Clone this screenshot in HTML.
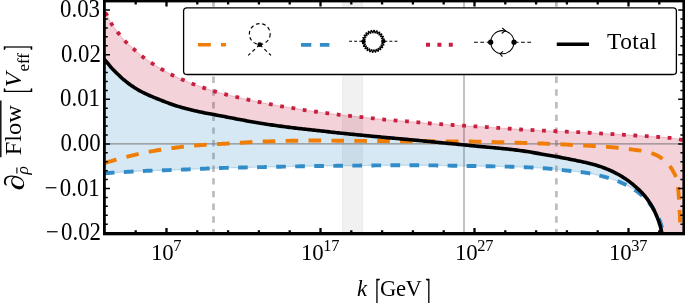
<!DOCTYPE html>
<html><head><meta charset="utf-8"><title>Flow plot</title>
<style>
html,body{margin:0;padding:0;background:#fff;}
svg{display:block;font-family:"Liberation Serif","DejaVu Serif",serif;}
</style></head>
<body>
<svg width="685" height="303" viewBox="0 0 685 303">
<rect width="685" height="303" fill="#fff"/>
<clipPath id="pc"><rect x="104.4" y="1.0" width="579.4" height="232.7"/></clipPath>
<g clip-path="url(#pc)">
<!-- grey band and guide lines -->
<rect x="342.6" y="0" width="19.8" height="240" fill="#000" fill-opacity="0.055"/>
<path d="M342.6 0V240M362.4 0V240" stroke="#000" stroke-opacity="0.08" stroke-width="0.8" fill="none"/>
<path d="M213.5 1.0V233.7M556.4 1.0V233.7" stroke="#bcbcbc" stroke-width="2.7" stroke-dasharray="6.4 6.3" stroke-dashoffset="0.6" fill="none"/>
<path d="M464 0V240" stroke="#a8a8a8" stroke-width="1.4" fill="none"/>
<!-- fills -->
<path d="M104.40 11.60 L105.85 13.45 L107.30 15.74 L108.75 18.56 L110.20 21.48 L111.65 24.04 L113.11 26.22 L114.56 28.23 L116.01 30.12 L117.46 31.96 L118.91 33.80 L120.36 35.62 L121.81 37.41 L123.26 39.13 L124.71 40.76 L126.16 42.27 L127.61 43.68 L129.06 45.01 L130.52 46.28 L131.97 47.53 L133.42 48.79 L134.87 50.07 L136.32 51.36 L137.77 52.66 L139.22 53.93 L140.67 55.16 L142.12 56.35 L143.57 57.47 L145.02 58.55 L146.48 59.59 L147.93 60.61 L149.38 61.60 L150.83 62.57 L152.28 63.52 L153.73 64.45 L155.18 65.36 L156.63 66.24 L158.08 67.12 L159.53 67.98 L160.98 68.83 L162.44 69.67 L163.89 70.51 L165.34 71.35 L166.79 72.17 L168.24 72.98 L169.69 73.76 L171.14 74.52 L172.59 75.24 L174.04 75.93 L175.49 76.60 L176.94 77.25 L178.39 77.88 L179.85 78.51 L181.30 79.13 L182.75 79.75 L184.20 80.37 L185.65 80.98 L187.10 81.59 L188.55 82.19 L190.00 82.78 L191.45 83.36 L192.90 83.92 L194.35 84.48 L195.81 85.03 L197.26 85.56 L198.71 86.09 L200.16 86.61 L201.61 87.13 L203.06 87.63 L204.51 88.13 L205.96 88.62 L207.41 89.11 L208.86 89.59 L210.31 90.06 L211.76 90.52 L213.22 90.96 L214.67 91.40 L216.12 91.82 L217.57 92.23 L219.02 92.64 L220.47 93.03 L221.92 93.42 L223.37 93.80 L224.82 94.17 L226.27 94.55 L227.72 94.91 L229.18 95.27 L230.63 95.62 L232.08 95.97 L233.53 96.32 L234.98 96.67 L236.43 97.01 L237.88 97.36 L239.33 97.71 L240.78 98.05 L242.23 98.40 L243.68 98.74 L245.14 99.08 L246.59 99.41 L248.04 99.73 L249.49 100.04 L250.94 100.35 L252.39 100.65 L253.84 100.95 L255.29 101.25 L256.74 101.54 L258.19 101.83 L259.64 102.13 L261.09 102.43 L262.55 102.74 L264.00 103.04 L265.45 103.34 L266.90 103.63 L268.35 103.92 L269.80 104.20 L271.25 104.48 L272.70 104.75 L274.15 105.01 L275.60 105.27 L277.05 105.53 L278.51 105.78 L279.96 106.02 L281.41 106.27 L282.86 106.51 L284.31 106.74 L285.76 106.96 L287.21 107.18 L288.66 107.41 L290.11 107.63 L291.56 107.85 L293.01 108.09 L294.46 108.32 L295.92 108.57 L297.37 108.82 L298.82 109.07 L300.27 109.32 L301.72 109.56 L303.17 109.80 L304.62 110.03 L306.07 110.26 L307.52 110.48 L308.97 110.70 L310.42 110.91 L311.88 111.13 L313.33 111.34 L314.78 111.54 L316.23 111.75 L317.68 111.95 L319.13 112.14 L320.58 112.34 L322.03 112.53 L323.48 112.72 L324.93 112.91 L326.38 113.11 L327.84 113.30 L329.29 113.49 L330.74 113.69 L332.19 113.88 L333.64 114.08 L335.09 114.27 L336.54 114.45 L337.99 114.63 L339.44 114.80 L340.89 114.96 L342.34 115.12 L343.79 115.27 L345.25 115.42 L346.70 115.57 L348.15 115.72 L349.60 115.87 L351.05 116.02 L352.50 116.17 L353.95 116.32 L355.40 116.47 L356.85 116.62 L358.30 116.78 L359.75 116.93 L361.21 117.08 L362.66 117.23 L364.11 117.39 L365.56 117.54 L367.01 117.70 L368.46 117.85 L369.91 118.00 L371.36 118.16 L372.81 118.31 L374.26 118.47 L375.71 118.62 L377.16 118.78 L378.62 118.93 L380.07 119.09 L381.52 119.24 L382.97 119.38 L384.42 119.52 L385.87 119.66 L387.32 119.79 L388.77 119.91 L390.22 120.04 L391.67 120.16 L393.12 120.28 L394.58 120.40 L396.03 120.52 L397.48 120.63 L398.93 120.74 L400.38 120.85 L401.83 120.96 L403.28 121.06 L404.73 121.17 L406.18 121.28 L407.63 121.40 L409.08 121.52 L410.54 121.65 L411.99 121.77 L413.44 121.90 L414.89 122.03 L416.34 122.16 L417.79 122.29 L419.24 122.43 L420.69 122.56 L422.14 122.70 L423.59 122.85 L425.04 122.99 L426.49 123.12 L427.95 123.25 L429.40 123.38 L430.85 123.49 L432.30 123.60 L433.75 123.70 L435.20 123.80 L436.65 123.89 L438.10 123.99 L439.55 124.09 L441.00 124.19 L442.45 124.29 L443.91 124.39 L445.36 124.49 L446.81 124.60 L448.26 124.70 L449.71 124.80 L451.16 124.90 L452.61 124.99 L454.06 125.09 L455.51 125.18 L456.96 125.27 L458.41 125.36 L459.86 125.45 L461.32 125.54 L462.77 125.62 L464.22 125.71 L465.67 125.80 L467.12 125.89 L468.57 125.98 L470.02 126.07 L471.47 126.16 L472.92 126.25 L474.37 126.34 L475.82 126.43 L477.28 126.51 L478.73 126.60 L480.18 126.69 L481.63 126.77 L483.08 126.86 L484.53 126.95 L485.98 127.04 L487.43 127.13 L488.88 127.23 L490.33 127.33 L491.78 127.43 L493.24 127.53 L494.69 127.64 L496.14 127.74 L497.59 127.84 L499.04 127.94 L500.49 128.05 L501.94 128.15 L503.39 128.25 L504.84 128.35 L506.29 128.45 L507.74 128.55 L509.19 128.65 L510.65 128.75 L512.10 128.86 L513.55 128.97 L515.00 129.07 L516.45 129.18 L517.90 129.28 L519.35 129.38 L520.80 129.48 L522.25 129.56 L523.70 129.64 L525.15 129.72 L526.61 129.79 L528.06 129.87 L529.51 129.94 L530.96 130.01 L532.41 130.08 L533.86 130.16 L535.31 130.24 L536.76 130.32 L538.21 130.40 L539.66 130.48 L541.11 130.56 L542.56 130.63 L544.02 130.70 L545.47 130.77 L546.92 130.83 L548.37 130.90 L549.82 130.96 L551.27 131.02 L552.72 131.08 L554.17 131.14 L555.62 131.20 L557.07 131.26 L558.52 131.33 L559.98 131.39 L561.43 131.46 L562.88 131.52 L564.33 131.59 L565.78 131.65 L567.23 131.71 L568.68 131.78 L570.13 131.84 L571.58 131.90 L573.03 131.96 L574.48 132.02 L575.94 132.09 L577.39 132.15 L578.84 132.22 L580.29 132.29 L581.74 132.36 L583.19 132.44 L584.64 132.51 L586.09 132.59 L587.54 132.67 L588.99 132.75 L590.44 132.83 L591.89 132.92 L593.35 133.01 L594.80 133.10 L596.25 133.20 L597.70 133.29 L599.15 133.38 L600.60 133.47 L602.05 133.55 L603.50 133.63 L604.95 133.71 L606.40 133.78 L607.85 133.85 L609.31 133.92 L610.76 134.00 L612.21 134.08 L613.66 134.16 L615.11 134.25 L616.56 134.33 L618.01 134.43 L619.46 134.52 L620.91 134.61 L622.36 134.70 L623.81 134.79 L625.26 134.88 L626.72 134.97 L628.17 135.05 L629.62 135.14 L631.07 135.23 L632.52 135.32 L633.97 135.41 L635.42 135.50 L636.87 135.58 L638.32 135.67 L639.77 135.76 L641.22 135.85 L642.68 135.94 L644.13 136.03 L645.58 136.12 L647.03 136.21 L648.48 136.31 L649.93 136.41 L651.38 136.51 L652.83 136.61 L654.28 136.71 L655.73 136.81 L657.18 136.92 L658.64 137.02 L660.09 137.13 L661.54 137.23 L662.99 137.33 L664.44 137.43 L665.89 137.55 L667.34 137.67 L668.79 137.80 L670.24 137.95 L671.69 138.12 L673.14 138.31 L674.59 138.51 L676.05 138.74 L677.50 138.99 L678.95 139.25 L680.40 139.52 L681.85 139.83 L683.30 140.20 L683.80 233.70 L661.90 233.30 L661.60 231.79 L661.27 230.29 L660.92 228.80 L660.54 227.32 L660.14 225.84 L659.71 224.38 L659.25 222.92 L658.75 221.46 L658.24 220.01 L657.69 218.57 L657.12 217.15 L656.54 215.73 L655.93 214.33 L655.31 212.94 L654.66 211.56 L653.98 210.18 L653.28 208.81 L652.55 207.45 L651.79 206.10 L651.01 204.77 L650.21 203.46 L649.39 202.17 L648.55 200.90 L647.68 199.66 L646.77 198.44 L645.83 197.23 L644.85 196.04 L643.84 194.87 L642.81 193.72 L641.76 192.59 L640.69 191.48 L639.61 190.41 L638.52 189.35 L637.41 188.31 L636.28 187.28 L635.13 186.26 L633.96 185.26 L632.77 184.27 L631.57 183.30 L630.35 182.35 L629.12 181.42 L627.88 180.51 L626.63 179.63 L625.37 178.77 L624.10 177.94 L622.82 177.13 L621.52 176.33 L620.20 175.54 L618.86 174.78 L617.51 174.03 L616.15 173.30 L614.78 172.60 L613.40 171.91 L612.02 171.25 L610.63 170.61 L609.24 170.00 L607.83 169.40 L606.42 168.82 L604.99 168.26 L603.56 167.71 L602.11 167.18 L600.66 166.66 L599.21 166.17 L597.75 165.69 L596.29 165.24 L594.82 164.81 L593.35 164.40 L591.87 164.01 L590.39 163.63 L588.90 163.27 L587.41 162.92 L585.91 162.59 L584.41 162.26 L582.91 161.93 L581.41 161.61 L579.91 161.28 L578.42 160.96 L576.92 160.64 L575.42 160.33 L573.92 160.02 L572.42 159.71 L570.91 159.41 L569.41 159.12 L567.91 158.82 L566.40 158.53 L564.90 158.24 L563.39 157.95 L561.89 157.67 L560.38 157.38 L558.88 157.10 L557.37 156.82 L555.86 156.55 L554.36 156.27 L552.85 156.00 L551.34 155.73 L549.83 155.46 L548.32 155.20 L546.81 154.93 L545.30 154.67 L543.79 154.41 L542.28 154.16 L540.77 153.90 L539.26 153.64 L537.75 153.39 L536.24 153.13 L534.73 152.87 L533.22 152.61 L531.71 152.35 L530.20 152.09 L528.69 151.84 L527.18 151.59 L525.66 151.35 L524.15 151.12 L522.64 150.89 L521.12 150.68 L519.60 150.47 L518.08 150.28 L516.57 150.09 L515.04 149.90 L513.52 149.73 L512.00 149.55 L510.48 149.38 L508.95 149.22 L507.43 149.06 L505.91 148.90 L504.38 148.74 L502.86 148.59 L501.33 148.43 L499.81 148.28 L498.28 148.13 L496.76 147.99 L495.23 147.85 L493.71 147.71 L492.18 147.58 L490.66 147.44 L489.13 147.31 L487.60 147.18 L486.08 147.05 L484.55 146.91 L483.02 146.78 L481.50 146.64 L479.97 146.50 L478.45 146.35 L476.92 146.20 L475.40 146.05 L473.88 145.90 L472.35 145.75 L470.83 145.59 L469.30 145.44 L467.78 145.28 L466.25 145.12 L464.73 144.97 L463.21 144.82 L461.68 144.67 L460.16 144.52 L458.63 144.37 L457.11 144.22 L455.58 144.08 L454.06 143.93 L452.53 143.79 L451.01 143.64 L449.48 143.50 L447.96 143.36 L446.43 143.21 L444.91 143.07 L443.38 142.92 L441.86 142.78 L440.33 142.63 L438.81 142.48 L437.28 142.33 L435.76 142.18 L434.23 142.03 L432.71 141.88 L431.18 141.72 L429.66 141.57 L428.14 141.42 L426.61 141.27 L425.09 141.11 L423.56 140.96 L422.04 140.82 L420.51 140.67 L418.99 140.52 L417.46 140.38 L415.94 140.24 L414.41 140.10 L412.89 139.96 L411.36 139.82 L409.84 139.68 L408.31 139.54 L406.78 139.40 L405.26 139.27 L403.73 139.13 L402.21 138.99 L400.68 138.85 L399.16 138.71 L397.63 138.58 L396.10 138.44 L394.58 138.30 L393.05 138.16 L391.53 138.02 L390.00 137.89 L388.48 137.75 L386.95 137.61 L385.42 137.47 L383.90 137.33 L382.37 137.19 L380.85 137.05 L379.32 136.91 L377.80 136.77 L376.27 136.63 L374.75 136.48 L373.22 136.34 L371.70 136.19 L370.17 136.05 L368.65 135.90 L367.12 135.75 L365.60 135.61 L364.07 135.46 L362.55 135.31 L361.02 135.16 L359.50 135.01 L357.97 134.86 L356.45 134.71 L354.92 134.56 L353.40 134.41 L351.88 134.26 L350.35 134.10 L348.83 133.95 L347.30 133.80 L345.78 133.64 L344.25 133.49 L342.73 133.33 L341.21 133.17 L339.68 133.01 L338.16 132.85 L336.64 132.68 L335.11 132.52 L333.59 132.35 L332.07 132.18 L330.55 132.01 L329.02 131.84 L327.50 131.66 L325.98 131.49 L324.46 131.32 L322.94 131.15 L321.41 130.98 L319.89 130.81 L318.37 130.64 L316.84 130.48 L315.32 130.31 L313.80 130.14 L312.28 129.98 L310.75 129.82 L309.23 129.65 L307.71 129.48 L306.18 129.32 L304.66 129.15 L303.14 128.98 L301.62 128.80 L300.09 128.63 L298.57 128.45 L297.05 128.27 L295.53 128.09 L294.01 127.90 L292.49 127.72 L290.97 127.53 L289.45 127.34 L287.93 127.15 L286.41 126.95 L284.89 126.76 L283.37 126.56 L281.85 126.36 L280.33 126.15 L278.82 125.95 L277.30 125.74 L275.78 125.53 L274.26 125.32 L272.75 125.11 L271.23 124.89 L269.71 124.68 L268.20 124.45 L266.68 124.23 L265.16 124.00 L263.65 123.77 L262.14 123.54 L260.62 123.30 L259.11 123.05 L257.60 122.80 L256.09 122.55 L254.58 122.28 L253.07 122.01 L251.57 121.74 L250.06 121.46 L248.55 121.18 L247.05 120.90 L245.54 120.62 L244.04 120.34 L242.53 120.05 L241.03 119.77 L239.52 119.48 L238.01 119.20 L236.51 118.92 L235.00 118.63 L233.50 118.34 L231.99 118.05 L230.49 117.76 L228.99 117.47 L227.48 117.18 L225.98 116.89 L224.47 116.60 L222.97 116.31 L221.47 116.02 L219.96 115.73 L218.46 115.44 L216.95 115.16 L215.44 114.87 L213.94 114.60 L212.43 114.32 L210.92 114.04 L209.42 113.77 L207.91 113.48 L206.40 113.20 L204.90 112.91 L203.40 112.62 L201.90 112.31 L200.40 112.00 L198.90 111.68 L197.41 111.35 L195.91 111.01 L194.42 110.67 L192.92 110.32 L191.43 109.97 L189.94 109.60 L188.45 109.23 L186.96 108.85 L185.48 108.46 L184.00 108.06 L182.53 107.66 L181.05 107.24 L179.59 106.81 L178.12 106.38 L176.66 105.92 L175.21 105.45 L173.75 104.97 L172.30 104.47 L170.86 103.96 L169.41 103.45 L167.97 102.92 L166.53 102.38 L165.10 101.83 L163.67 101.28 L162.24 100.72 L160.81 100.16 L159.39 99.60 L157.97 99.03 L156.55 98.46 L155.12 97.88 L153.70 97.29 L152.28 96.70 L150.86 96.10 L149.44 95.49 L148.04 94.87 L146.64 94.23 L145.25 93.58 L143.87 92.92 L142.51 92.24 L141.15 91.54 L139.82 90.82 L138.50 90.08 L137.18 89.31 L135.88 88.51 L134.58 87.70 L133.29 86.85 L132.01 85.99 L130.75 85.11 L129.50 84.21 L128.26 83.29 L127.03 82.36 L125.82 81.42 L124.62 80.47 L123.44 79.50 L122.30 78.49 L121.19 77.43 L120.08 76.37 L118.97 75.31 L117.86 74.25 L116.75 73.19 L115.65 72.13 L114.56 71.05 L113.48 69.96 L112.42 68.85 L111.39 67.73 L110.40 66.56 L109.43 65.38 L108.46 64.18 L107.50 62.99 L106.51 61.82 L105.48 60.68 L104.40 59.60Z" fill="#c8203f" fill-opacity="0.2"/>
<path d="M104.40 59.60 L105.48 60.68 L106.51 61.82 L107.50 62.99 L108.46 64.18 L109.43 65.38 L110.40 66.56 L111.39 67.73 L112.42 68.85 L113.48 69.96 L114.56 71.05 L115.65 72.13 L116.75 73.19 L117.86 74.25 L118.97 75.31 L120.08 76.37 L121.19 77.43 L122.30 78.49 L123.44 79.50 L124.62 80.47 L125.82 81.42 L127.03 82.36 L128.26 83.29 L129.50 84.21 L130.75 85.11 L132.01 85.99 L133.29 86.85 L134.58 87.70 L135.88 88.51 L137.18 89.31 L138.50 90.08 L139.82 90.82 L141.15 91.54 L142.51 92.24 L143.87 92.92 L145.25 93.58 L146.64 94.23 L148.04 94.87 L149.44 95.49 L150.86 96.10 L152.28 96.70 L153.70 97.29 L155.12 97.88 L156.55 98.46 L157.97 99.03 L159.39 99.60 L160.81 100.16 L162.24 100.72 L163.67 101.28 L165.10 101.83 L166.53 102.38 L167.97 102.92 L169.41 103.45 L170.86 103.96 L172.30 104.47 L173.75 104.97 L175.21 105.45 L176.66 105.92 L178.12 106.38 L179.59 106.81 L181.05 107.24 L182.53 107.66 L184.00 108.06 L185.48 108.46 L186.96 108.85 L188.45 109.23 L189.94 109.60 L191.43 109.97 L192.92 110.32 L194.42 110.67 L195.91 111.01 L197.41 111.35 L198.90 111.68 L200.40 112.00 L201.90 112.31 L203.40 112.62 L204.90 112.91 L206.40 113.20 L207.91 113.48 L209.42 113.77 L210.92 114.04 L212.43 114.32 L213.94 114.60 L215.44 114.87 L216.95 115.16 L218.46 115.44 L219.96 115.73 L221.47 116.02 L222.97 116.31 L224.47 116.60 L225.98 116.89 L227.48 117.18 L228.99 117.47 L230.49 117.76 L231.99 118.05 L233.50 118.34 L235.00 118.63 L236.51 118.92 L238.01 119.20 L239.52 119.48 L241.03 119.77 L242.53 120.05 L244.04 120.34 L245.54 120.62 L247.05 120.90 L248.55 121.18 L250.06 121.46 L251.57 121.74 L253.07 122.01 L254.58 122.28 L256.09 122.55 L257.60 122.80 L259.11 123.05 L260.62 123.30 L262.14 123.54 L263.65 123.77 L265.16 124.00 L266.68 124.23 L268.20 124.45 L269.71 124.68 L271.23 124.89 L272.75 125.11 L274.26 125.32 L275.78 125.53 L277.30 125.74 L278.82 125.95 L280.33 126.15 L281.85 126.36 L283.37 126.56 L284.89 126.76 L286.41 126.95 L287.93 127.15 L289.45 127.34 L290.97 127.53 L292.49 127.72 L294.01 127.90 L295.53 128.09 L297.05 128.27 L298.57 128.45 L300.09 128.63 L301.62 128.80 L303.14 128.98 L304.66 129.15 L306.18 129.32 L307.71 129.48 L309.23 129.65 L310.75 129.82 L312.28 129.98 L313.80 130.14 L315.32 130.31 L316.84 130.48 L318.37 130.64 L319.89 130.81 L321.41 130.98 L322.94 131.15 L324.46 131.32 L325.98 131.49 L327.50 131.66 L329.02 131.84 L330.55 132.01 L332.07 132.18 L333.59 132.35 L335.11 132.52 L336.64 132.68 L338.16 132.85 L339.68 133.01 L341.21 133.17 L342.73 133.33 L344.25 133.49 L345.78 133.64 L347.30 133.80 L348.83 133.95 L350.35 134.10 L351.88 134.26 L353.40 134.41 L354.92 134.56 L356.45 134.71 L357.97 134.86 L359.50 135.01 L361.02 135.16 L362.55 135.31 L364.07 135.46 L365.60 135.61 L367.12 135.75 L368.65 135.90 L370.17 136.05 L371.70 136.19 L373.22 136.34 L374.75 136.48 L376.27 136.63 L377.80 136.77 L379.32 136.91 L380.85 137.05 L382.37 137.19 L383.90 137.33 L385.42 137.47 L386.95 137.61 L388.48 137.75 L390.00 137.89 L391.53 138.02 L393.05 138.16 L394.58 138.30 L396.10 138.44 L397.63 138.58 L399.16 138.71 L400.68 138.85 L402.21 138.99 L403.73 139.13 L405.26 139.27 L406.78 139.40 L408.31 139.54 L409.84 139.68 L411.36 139.82 L412.89 139.96 L414.41 140.10 L415.94 140.24 L417.46 140.38 L418.99 140.52 L420.51 140.67 L422.04 140.82 L423.56 140.96 L425.09 141.11 L426.61 141.27 L428.14 141.42 L429.66 141.57 L431.18 141.72 L432.71 141.88 L434.23 142.03 L435.76 142.18 L437.28 142.33 L438.81 142.48 L440.33 142.63 L441.86 142.78 L443.38 142.92 L444.91 143.07 L446.43 143.21 L447.96 143.36 L449.48 143.50 L451.01 143.64 L452.53 143.79 L454.06 143.93 L455.58 144.08 L457.11 144.22 L458.63 144.37 L460.16 144.52 L461.68 144.67 L463.21 144.82 L464.73 144.97 L466.25 145.12 L467.78 145.28 L469.30 145.44 L470.83 145.59 L472.35 145.75 L473.88 145.90 L475.40 146.05 L476.92 146.20 L478.45 146.35 L479.97 146.50 L481.50 146.64 L483.02 146.78 L484.55 146.91 L486.08 147.05 L487.60 147.18 L489.13 147.31 L490.66 147.44 L492.18 147.58 L493.71 147.71 L495.23 147.85 L496.76 147.99 L498.28 148.13 L499.81 148.28 L501.33 148.43 L502.86 148.59 L504.38 148.74 L505.91 148.90 L507.43 149.06 L508.95 149.22 L510.48 149.38 L512.00 149.55 L513.52 149.73 L515.04 149.90 L516.57 150.09 L518.08 150.28 L519.60 150.47 L521.12 150.68 L522.64 150.89 L524.15 151.12 L525.66 151.35 L527.18 151.59 L528.69 151.84 L530.20 152.09 L531.71 152.35 L533.22 152.61 L534.73 152.87 L536.24 153.13 L537.75 153.39 L539.26 153.64 L540.77 153.90 L542.28 154.16 L543.79 154.41 L545.30 154.67 L546.81 154.93 L548.32 155.20 L549.83 155.46 L551.34 155.73 L552.85 156.00 L554.36 156.27 L555.86 156.55 L557.37 156.82 L558.88 157.10 L560.38 157.38 L561.89 157.67 L563.39 157.95 L564.90 158.24 L566.40 158.53 L567.91 158.82 L569.41 159.12 L570.91 159.41 L572.42 159.71 L573.92 160.02 L575.42 160.33 L576.92 160.64 L578.42 160.96 L579.91 161.28 L581.41 161.61 L582.91 161.93 L584.41 162.26 L585.91 162.59 L587.41 162.92 L588.90 163.27 L590.39 163.63 L591.87 164.01 L593.35 164.40 L594.82 164.81 L596.29 165.24 L597.75 165.69 L599.21 166.17 L600.66 166.66 L602.11 167.18 L603.56 167.71 L604.99 168.26 L606.42 168.82 L607.83 169.40 L609.24 170.00 L610.63 170.61 L612.02 171.25 L613.40 171.91 L614.78 172.60 L616.15 173.30 L617.51 174.03 L618.86 174.78 L620.20 175.54 L621.52 176.33 L622.82 177.13 L624.10 177.94 L625.37 178.77 L626.63 179.63 L627.88 180.51 L629.12 181.42 L630.35 182.35 L631.57 183.30 L632.77 184.27 L633.96 185.26 L635.13 186.26 L636.28 187.28 L637.41 188.31 L638.52 189.35 L639.61 190.41 L640.69 191.48 L641.76 192.59 L642.81 193.72 L643.84 194.87 L644.85 196.04 L645.83 197.23 L646.77 198.44 L647.68 199.66 L648.55 200.90 L649.39 202.17 L650.21 203.46 L651.01 204.77 L651.79 206.10 L652.55 207.45 L653.28 208.81 L653.98 210.18 L654.66 211.56 L655.31 212.94 L655.93 214.33 L656.54 215.73 L657.12 217.15 L657.69 218.57 L658.24 220.01 L658.75 221.46 L659.25 222.92 L659.71 224.38 L660.14 225.84 L660.54 227.32 L660.92 228.80 L661.27 230.29 L661.60 231.79 L661.90 233.30 L663.00 233.30 L662.78 231.82 L662.51 230.36 L662.21 228.90 L661.87 227.47 L661.50 226.04 L661.10 224.64 L660.68 223.25 L660.22 221.88 L659.72 220.52 L659.16 219.16 L658.55 217.81 L657.89 216.47 L657.20 215.15 L656.48 213.84 L655.72 212.55 L654.95 211.28 L654.16 210.03 L653.37 208.80 L652.56 207.60 L651.73 206.41 L650.87 205.22 L649.97 204.05 L649.03 202.88 L648.07 201.74 L647.09 200.61 L646.08 199.51 L645.04 198.43 L643.99 197.38 L642.93 196.37 L641.84 195.40 L640.75 194.46 L639.64 193.55 L638.50 192.66 L637.32 191.78 L636.13 190.92 L634.90 190.07 L633.66 189.25 L632.40 188.44 L631.12 187.66 L629.84 186.91 L628.54 186.17 L627.23 185.47 L625.91 184.79 L624.60 184.14 L623.28 183.53 L621.96 182.94 L620.62 182.36 L619.27 181.81 L617.91 181.27 L616.53 180.74 L615.15 180.23 L613.75 179.73 L612.35 179.25 L610.94 178.79 L609.52 178.34 L608.11 177.90 L606.69 177.48 L605.26 177.07 L603.84 176.68 L602.42 176.31 L601.01 175.95 L599.58 175.59 L598.15 175.24 L596.72 174.91 L595.28 174.58 L593.84 174.26 L592.40 173.95 L590.95 173.66 L589.50 173.37 L588.05 173.11 L586.60 172.85 L585.15 172.62 L583.70 172.40 L582.24 172.20 L580.79 172.01 L579.33 171.84 L577.87 171.68 L576.40 171.52 L574.94 171.38 L573.47 171.24 L572.00 171.10 L570.54 170.96 L569.07 170.81 L567.61 170.66 L566.14 170.51 L564.68 170.35 L563.22 170.18 L561.75 170.02 L560.29 169.85 L558.83 169.69 L557.37 169.52 L555.90 169.36 L554.44 169.20 L552.98 169.05 L551.51 168.91 L550.05 168.77 L548.58 168.65 L547.12 168.53 L545.65 168.42 L544.18 168.31 L542.71 168.20 L541.25 168.10 L539.78 168.01 L538.31 167.91 L536.84 167.82 L535.37 167.73 L533.90 167.65 L532.43 167.57 L530.96 167.49 L529.49 167.42 L528.02 167.35 L526.55 167.29 L525.08 167.23 L523.61 167.16 L522.14 167.10 L520.67 167.05 L519.20 166.99 L517.73 166.94 L516.26 166.89 L514.79 166.84 L513.32 166.79 L511.85 166.75 L510.37 166.71 L508.90 166.67 L507.43 166.63 L505.96 166.60 L504.49 166.56 L503.02 166.53 L501.55 166.50 L500.08 166.47 L498.61 166.44 L497.13 166.41 L495.66 166.39 L494.19 166.36 L492.72 166.33 L491.25 166.30 L489.78 166.28 L488.31 166.25 L486.83 166.23 L485.36 166.20 L483.89 166.18 L482.42 166.16 L480.95 166.14 L479.48 166.11 L478.01 166.09 L476.54 166.07 L475.06 166.05 L473.59 166.02 L472.12 166.00 L470.65 165.98 L469.18 165.96 L467.71 165.93 L466.24 165.91 L464.76 165.89 L463.29 165.86 L461.82 165.84 L460.35 165.82 L458.88 165.79 L457.41 165.77 L455.94 165.75 L454.46 165.72 L452.99 165.70 L451.52 165.68 L450.05 165.65 L448.58 165.62 L447.11 165.60 L445.64 165.57 L444.17 165.54 L442.69 165.52 L441.22 165.49 L439.75 165.47 L438.28 165.45 L436.81 165.43 L435.34 165.41 L433.87 165.40 L432.39 165.39 L430.92 165.38 L429.45 165.37 L427.98 165.35 L426.51 165.34 L425.04 165.34 L423.57 165.33 L422.09 165.32 L420.62 165.31 L419.15 165.31 L417.68 165.30 L416.21 165.30 L414.74 165.30 L413.26 165.30 L411.79 165.30 L410.32 165.30 L408.85 165.30 L407.38 165.30 L405.91 165.30 L404.44 165.30 L402.96 165.30 L401.49 165.30 L400.02 165.30 L398.55 165.30 L397.08 165.30 L395.61 165.30 L394.13 165.30 L392.66 165.30 L391.19 165.31 L389.72 165.31 L388.25 165.32 L386.78 165.33 L385.31 165.34 L383.83 165.35 L382.36 165.36 L380.89 165.37 L379.42 165.38 L377.95 165.39 L376.48 165.40 L375.00 165.41 L373.53 165.43 L372.06 165.44 L370.59 165.45 L369.12 165.47 L367.65 165.49 L366.18 165.50 L364.70 165.52 L363.23 165.54 L361.76 165.56 L360.29 165.57 L358.82 165.59 L357.35 165.60 L355.88 165.62 L354.40 165.63 L352.93 165.65 L351.46 165.66 L349.99 165.68 L348.52 165.69 L347.05 165.71 L345.58 165.72 L344.10 165.74 L342.63 165.75 L341.16 165.77 L339.69 165.78 L338.22 165.80 L336.75 165.81 L335.28 165.83 L333.80 165.84 L332.33 165.86 L330.86 165.87 L329.39 165.89 L327.92 165.90 L326.45 165.92 L324.97 165.94 L323.50 165.95 L322.03 165.97 L320.56 165.99 L319.09 166.01 L317.62 166.02 L316.15 166.04 L314.67 166.06 L313.20 166.09 L311.73 166.11 L310.26 166.13 L308.79 166.15 L307.32 166.18 L305.85 166.20 L304.38 166.22 L302.90 166.25 L301.43 166.27 L299.96 166.30 L298.49 166.33 L297.02 166.36 L295.55 166.39 L294.08 166.42 L292.61 166.45 L291.13 166.48 L289.66 166.51 L288.19 166.54 L286.72 166.58 L285.25 166.61 L283.78 166.64 L282.31 166.67 L280.84 166.70 L279.36 166.73 L277.89 166.77 L276.42 166.80 L274.95 166.83 L273.48 166.86 L272.01 166.89 L270.54 166.92 L269.07 166.95 L267.59 166.98 L266.12 167.01 L264.65 167.04 L263.18 167.08 L261.71 167.11 L260.24 167.14 L258.77 167.17 L257.30 167.20 L255.82 167.23 L254.35 167.26 L252.88 167.29 L251.41 167.32 L249.94 167.35 L248.47 167.38 L247.00 167.42 L245.53 167.45 L244.05 167.48 L242.58 167.51 L241.11 167.54 L239.64 167.57 L238.17 167.60 L236.70 167.62 L235.23 167.65 L233.76 167.68 L232.28 167.71 L230.81 167.74 L229.34 167.77 L227.87 167.80 L226.40 167.84 L224.93 167.88 L223.46 167.92 L221.99 167.96 L220.52 168.01 L219.05 168.06 L217.58 168.12 L216.11 168.18 L214.64 168.24 L213.16 168.30 L211.69 168.37 L210.22 168.43 L208.75 168.50 L207.28 168.56 L205.81 168.62 L204.34 168.69 L202.87 168.75 L201.40 168.81 L199.93 168.87 L198.46 168.93 L196.99 169.00 L195.52 169.06 L194.05 169.12 L192.58 169.19 L191.11 169.25 L189.64 169.31 L188.17 169.37 L186.70 169.43 L185.23 169.49 L183.76 169.55 L182.29 169.61 L180.82 169.66 L179.35 169.72 L177.88 169.77 L176.41 169.83 L174.94 169.88 L173.47 169.94 L172.00 169.99 L170.53 170.04 L169.05 170.09 L167.58 170.15 L166.11 170.20 L164.64 170.25 L163.17 170.29 L161.70 170.34 L160.23 170.38 L158.76 170.42 L157.29 170.46 L155.82 170.51 L154.35 170.55 L152.87 170.60 L151.40 170.64 L149.93 170.69 L148.46 170.74 L146.99 170.80 L145.52 170.86 L144.05 170.93 L142.58 171.00 L141.11 171.07 L139.64 171.14 L138.17 171.22 L136.70 171.30 L135.24 171.39 L133.77 171.47 L132.30 171.55 L130.83 171.64 L129.36 171.72 L127.89 171.81 L126.42 171.89 L124.95 171.97 L123.48 172.05 L122.01 172.14 L120.54 172.22 L119.07 172.30 L117.60 172.39 L116.14 172.48 L114.67 172.58 L113.20 172.67 L111.73 172.77 L110.26 172.88 L108.80 173.00 L107.33 173.12 L105.87 173.26 L104.40 173.40Z" fill="#328cc8" fill-opacity="0.2"/>
<path d="M104.40 11.60 L105.85 13.45 L107.30 15.74 L108.75 18.56 L110.20 21.48 L111.65 24.04 L113.11 26.22 L114.56 28.23 L116.01 30.12 L117.46 31.96 L118.91 33.80 L120.36 35.62 L121.81 37.41 L123.26 39.13 L124.71 40.76 L126.16 42.27 L127.61 43.68 L129.06 45.01 L130.52 46.28 L131.97 47.53 L133.42 48.79 L134.87 50.07 L136.32 51.36 L137.77 52.66 L139.22 53.93 L140.67 55.16 L142.12 56.35 L143.57 57.47 L145.02 58.55 L146.48 59.59 L147.93 60.61 L149.38 61.60 L150.83 62.57 L152.28 63.52 L153.73 64.45 L155.18 65.36 L156.63 66.24 L158.08 67.12 L159.53 67.98 L160.98 68.83 L162.44 69.67 L163.89 70.51 L165.34 71.35 L166.79 72.17 L168.24 72.98 L169.69 73.76 L171.14 74.52 L172.59 75.24 L174.04 75.93 L175.49 76.60 L176.94 77.25 L178.39 77.88 L179.85 78.51 L181.30 79.13 L182.75 79.75 L184.20 80.37 L185.65 80.98 L187.10 81.59 L188.55 82.19 L190.00 82.78 L191.45 83.36 L192.90 83.92 L194.35 84.48 L195.81 85.03 L197.26 85.56 L198.71 86.09 L200.16 86.61 L201.61 87.13 L203.06 87.63 L204.51 88.13 L205.96 88.62 L207.41 89.11 L208.86 89.59 L210.31 90.06 L211.76 90.52 L213.22 90.96 L214.67 91.40 L216.12 91.82 L217.57 92.23 L219.02 92.64 L220.47 93.03 L221.92 93.42 L223.37 93.80 L224.82 94.17 L226.27 94.55 L227.72 94.91 L229.18 95.27 L230.63 95.62 L232.08 95.97 L233.53 96.32 L234.98 96.67 L236.43 97.01 L237.88 97.36 L239.33 97.71 L240.78 98.05 L242.23 98.40 L243.68 98.74 L245.14 99.08 L246.59 99.41 L248.04 99.73 L249.49 100.04 L250.94 100.35 L252.39 100.65 L253.84 100.95 L255.29 101.25 L256.74 101.54 L258.19 101.83 L259.64 102.13 L261.09 102.43 L262.55 102.74 L264.00 103.04 L265.45 103.34 L266.90 103.63 L268.35 103.92 L269.80 104.20 L271.25 104.48 L272.70 104.75 L274.15 105.01 L275.60 105.27 L277.05 105.53 L278.51 105.78 L279.96 106.02 L281.41 106.27 L282.86 106.51 L284.31 106.74 L285.76 106.96 L287.21 107.18 L288.66 107.41 L290.11 107.63 L291.56 107.85 L293.01 108.09 L294.46 108.32 L295.92 108.57 L297.37 108.82 L298.82 109.07 L300.27 109.32 L301.72 109.56 L303.17 109.80 L304.62 110.03 L306.07 110.26 L307.52 110.48 L308.97 110.70 L310.42 110.91 L311.88 111.13 L313.33 111.34 L314.78 111.54 L316.23 111.75 L317.68 111.95 L319.13 112.14 L320.58 112.34 L322.03 112.53 L323.48 112.72 L324.93 112.91 L326.38 113.11 L327.84 113.30 L329.29 113.49 L330.74 113.69 L332.19 113.88 L333.64 114.08 L335.09 114.27 L336.54 114.45 L337.99 114.63 L339.44 114.80 L340.89 114.96 L342.34 115.12 L343.79 115.27 L345.25 115.42 L346.70 115.57 L348.15 115.72 L349.60 115.87 L351.05 116.02 L352.50 116.17 L353.95 116.32 L355.40 116.47 L356.85 116.62 L358.30 116.78 L359.75 116.93 L361.21 117.08 L362.66 117.23 L364.11 117.39 L365.56 117.54 L367.01 117.70 L368.46 117.85 L369.91 118.00 L371.36 118.16 L372.81 118.31 L374.26 118.47 L375.71 118.62 L377.16 118.78 L378.62 118.93 L380.07 119.09 L381.52 119.24 L382.97 119.38 L384.42 119.52 L385.87 119.66 L387.32 119.79 L388.77 119.91 L390.22 120.04 L391.67 120.16 L393.12 120.28 L394.58 120.40 L396.03 120.52 L397.48 120.63 L398.93 120.74 L400.38 120.85 L401.83 120.96 L403.28 121.06 L404.73 121.17 L406.18 121.28 L407.63 121.40 L409.08 121.52 L410.54 121.65 L411.99 121.77 L413.44 121.90 L414.89 122.03 L416.34 122.16 L417.79 122.29 L419.24 122.43 L420.69 122.56 L422.14 122.70 L423.59 122.85 L425.04 122.99 L426.49 123.12 L427.95 123.25 L429.40 123.38 L430.85 123.49 L432.30 123.60 L433.75 123.70 L435.20 123.80 L436.65 123.89 L438.10 123.99 L439.55 124.09 L441.00 124.19 L442.45 124.29 L443.91 124.39 L445.36 124.49 L446.81 124.60 L448.26 124.70 L449.71 124.80 L451.16 124.90 L452.61 124.99 L454.06 125.09 L455.51 125.18 L456.96 125.27 L458.41 125.36 L459.86 125.45 L461.32 125.54 L462.77 125.62 L464.22 125.71 L465.67 125.80 L467.12 125.89 L468.57 125.98 L470.02 126.07 L471.47 126.16 L472.92 126.25 L474.37 126.34 L475.82 126.43 L477.28 126.51 L478.73 126.60 L480.18 126.69 L481.63 126.77 L483.08 126.86 L484.53 126.95 L485.98 127.04 L487.43 127.13 L488.88 127.23 L490.33 127.33 L491.78 127.43 L493.24 127.53 L494.69 127.64 L496.14 127.74 L497.59 127.84 L499.04 127.94 L500.49 128.05 L501.94 128.15 L503.39 128.25 L504.84 128.35 L506.29 128.45 L507.74 128.55 L509.19 128.65 L510.65 128.75 L512.10 128.86 L513.55 128.97 L515.00 129.07 L516.45 129.18 L517.90 129.28 L519.35 129.38 L520.80 129.48 L522.25 129.56 L523.70 129.64 L525.15 129.72 L526.61 129.79 L528.06 129.87 L529.51 129.94 L530.96 130.01 L532.41 130.08 L533.86 130.16 L535.31 130.24 L536.76 130.32 L538.21 130.40 L539.66 130.48 L541.11 130.56 L542.56 130.63 L544.02 130.70 L545.47 130.77 L546.92 130.83 L548.37 130.90 L549.82 130.96 L551.27 131.02 L552.72 131.08 L554.17 131.14 L555.62 131.20 L557.07 131.26 L558.52 131.33 L559.98 131.39 L561.43 131.46 L562.88 131.52 L564.33 131.59 L565.78 131.65 L567.23 131.71 L568.68 131.78 L570.13 131.84 L571.58 131.90 L573.03 131.96 L574.48 132.02 L575.94 132.09 L577.39 132.15 L578.84 132.22 L580.29 132.29 L581.74 132.36 L583.19 132.44 L584.64 132.51 L586.09 132.59 L587.54 132.67 L588.99 132.75 L590.44 132.83 L591.89 132.92 L593.35 133.01 L594.80 133.10 L596.25 133.20 L597.70 133.29 L599.15 133.38 L600.60 133.47 L602.05 133.55 L603.50 133.63 L604.95 133.71 L606.40 133.78 L607.85 133.85 L609.31 133.92 L610.76 134.00 L612.21 134.08 L613.66 134.16 L615.11 134.25 L616.56 134.33 L618.01 134.43 L619.46 134.52 L620.91 134.61 L622.36 134.70 L623.81 134.79 L625.26 134.88 L626.72 134.97 L628.17 135.05 L629.62 135.14 L631.07 135.23 L632.52 135.32 L633.97 135.41 L635.42 135.50 L636.87 135.58 L638.32 135.67 L639.77 135.76 L641.22 135.85 L642.68 135.94 L644.13 136.03 L645.58 136.12 L647.03 136.21 L648.48 136.31 L649.93 136.41 L651.38 136.51 L652.83 136.61 L654.28 136.71 L655.73 136.81 L657.18 136.92 L658.64 137.02 L660.09 137.13 L661.54 137.23 L662.99 137.33 L664.44 137.43 L665.89 137.55 L667.34 137.67 L668.79 137.80 L670.24 137.95 L671.69 138.12 L673.14 138.31 L674.59 138.51 L676.05 138.74 L677.50 138.99 L678.95 139.25 L680.40 139.52 L681.85 139.83 L683.30 140.20" fill="none" stroke="#c8203f" stroke-opacity="0.2" stroke-width="1.2"/>
<path d="M104.40 173.40 L105.87 173.26 L107.33 173.12 L108.80 173.00 L110.26 172.88 L111.73 172.77 L113.20 172.67 L114.67 172.58 L116.14 172.48 L117.60 172.39 L119.07 172.30 L120.54 172.22 L122.01 172.14 L123.48 172.05 L124.95 171.97 L126.42 171.89 L127.89 171.81 L129.36 171.72 L130.83 171.64 L132.30 171.55 L133.77 171.47 L135.24 171.39 L136.70 171.30 L138.17 171.22 L139.64 171.14 L141.11 171.07 L142.58 171.00 L144.05 170.93 L145.52 170.86 L146.99 170.80 L148.46 170.74 L149.93 170.69 L151.40 170.64 L152.87 170.60 L154.35 170.55 L155.82 170.51 L157.29 170.46 L158.76 170.42 L160.23 170.38 L161.70 170.34 L163.17 170.29 L164.64 170.25 L166.11 170.20 L167.58 170.15 L169.05 170.09 L170.53 170.04 L172.00 169.99 L173.47 169.94 L174.94 169.88 L176.41 169.83 L177.88 169.77 L179.35 169.72 L180.82 169.66 L182.29 169.61 L183.76 169.55 L185.23 169.49 L186.70 169.43 L188.17 169.37 L189.64 169.31 L191.11 169.25 L192.58 169.19 L194.05 169.12 L195.52 169.06 L196.99 169.00 L198.46 168.93 L199.93 168.87 L201.40 168.81 L202.87 168.75 L204.34 168.69 L205.81 168.62 L207.28 168.56 L208.75 168.50 L210.22 168.43 L211.69 168.37 L213.16 168.30 L214.64 168.24 L216.11 168.18 L217.58 168.12 L219.05 168.06 L220.52 168.01 L221.99 167.96 L223.46 167.92 L224.93 167.88 L226.40 167.84 L227.87 167.80 L229.34 167.77 L230.81 167.74 L232.28 167.71 L233.76 167.68 L235.23 167.65 L236.70 167.62 L238.17 167.60 L239.64 167.57 L241.11 167.54 L242.58 167.51 L244.05 167.48 L245.53 167.45 L247.00 167.42 L248.47 167.38 L249.94 167.35 L251.41 167.32 L252.88 167.29 L254.35 167.26 L255.82 167.23 L257.30 167.20 L258.77 167.17 L260.24 167.14 L261.71 167.11 L263.18 167.08 L264.65 167.04 L266.12 167.01 L267.59 166.98 L269.07 166.95 L270.54 166.92 L272.01 166.89 L273.48 166.86 L274.95 166.83 L276.42 166.80 L277.89 166.77 L279.36 166.73 L280.84 166.70 L282.31 166.67 L283.78 166.64 L285.25 166.61 L286.72 166.58 L288.19 166.54 L289.66 166.51 L291.13 166.48 L292.61 166.45 L294.08 166.42 L295.55 166.39 L297.02 166.36 L298.49 166.33 L299.96 166.30 L301.43 166.27 L302.90 166.25 L304.38 166.22 L305.85 166.20 L307.32 166.18 L308.79 166.15 L310.26 166.13 L311.73 166.11 L313.20 166.09 L314.67 166.06 L316.15 166.04 L317.62 166.02 L319.09 166.01 L320.56 165.99 L322.03 165.97 L323.50 165.95 L324.97 165.94 L326.45 165.92 L327.92 165.90 L329.39 165.89 L330.86 165.87 L332.33 165.86 L333.80 165.84 L335.28 165.83 L336.75 165.81 L338.22 165.80 L339.69 165.78 L341.16 165.77 L342.63 165.75 L344.10 165.74 L345.58 165.72 L347.05 165.71 L348.52 165.69 L349.99 165.68 L351.46 165.66 L352.93 165.65 L354.40 165.63 L355.88 165.62 L357.35 165.60 L358.82 165.59 L360.29 165.57 L361.76 165.56 L363.23 165.54 L364.70 165.52 L366.18 165.50 L367.65 165.49 L369.12 165.47 L370.59 165.45 L372.06 165.44 L373.53 165.43 L375.00 165.41 L376.48 165.40 L377.95 165.39 L379.42 165.38 L380.89 165.37 L382.36 165.36 L383.83 165.35 L385.31 165.34 L386.78 165.33 L388.25 165.32 L389.72 165.31 L391.19 165.31 L392.66 165.30 L394.13 165.30 L395.61 165.30 L397.08 165.30 L398.55 165.30 L400.02 165.30 L401.49 165.30 L402.96 165.30 L404.44 165.30 L405.91 165.30 L407.38 165.30 L408.85 165.30 L410.32 165.30 L411.79 165.30 L413.26 165.30 L414.74 165.30 L416.21 165.30 L417.68 165.30 L419.15 165.31 L420.62 165.31 L422.09 165.32 L423.57 165.33 L425.04 165.34 L426.51 165.34 L427.98 165.35 L429.45 165.37 L430.92 165.38 L432.39 165.39 L433.87 165.40 L435.34 165.41 L436.81 165.43 L438.28 165.45 L439.75 165.47 L441.22 165.49 L442.69 165.52 L444.17 165.54 L445.64 165.57 L447.11 165.60 L448.58 165.62 L450.05 165.65 L451.52 165.68 L452.99 165.70 L454.46 165.72 L455.94 165.75 L457.41 165.77 L458.88 165.79 L460.35 165.82 L461.82 165.84 L463.29 165.86 L464.76 165.89 L466.24 165.91 L467.71 165.93 L469.18 165.96 L470.65 165.98 L472.12 166.00 L473.59 166.02 L475.06 166.05 L476.54 166.07 L478.01 166.09 L479.48 166.11 L480.95 166.14 L482.42 166.16 L483.89 166.18 L485.36 166.20 L486.83 166.23 L488.31 166.25 L489.78 166.28 L491.25 166.30 L492.72 166.33 L494.19 166.36 L495.66 166.39 L497.13 166.41 L498.61 166.44 L500.08 166.47 L501.55 166.50 L503.02 166.53 L504.49 166.56 L505.96 166.60 L507.43 166.63 L508.90 166.67 L510.37 166.71 L511.85 166.75 L513.32 166.79 L514.79 166.84 L516.26 166.89 L517.73 166.94 L519.20 166.99 L520.67 167.05 L522.14 167.10 L523.61 167.16 L525.08 167.23 L526.55 167.29 L528.02 167.35 L529.49 167.42 L530.96 167.49 L532.43 167.57 L533.90 167.65 L535.37 167.73 L536.84 167.82 L538.31 167.91 L539.78 168.01 L541.25 168.10 L542.71 168.20 L544.18 168.31 L545.65 168.42 L547.12 168.53 L548.58 168.65 L550.05 168.77 L551.51 168.91 L552.98 169.05 L554.44 169.20 L555.90 169.36 L557.37 169.52 L558.83 169.69 L560.29 169.85 L561.75 170.02 L563.22 170.18 L564.68 170.35 L566.14 170.51 L567.61 170.66 L569.07 170.81 L570.54 170.96 L572.00 171.10 L573.47 171.24 L574.94 171.38 L576.40 171.52 L577.87 171.68 L579.33 171.84 L580.79 172.01 L582.24 172.20 L583.70 172.40 L585.15 172.62 L586.60 172.85 L588.05 173.11 L589.50 173.37 L590.95 173.66 L592.40 173.95 L593.84 174.26 L595.28 174.58 L596.72 174.91 L598.15 175.24 L599.58 175.59 L601.01 175.95 L602.42 176.31 L603.84 176.68 L605.26 177.07 L606.69 177.48 L608.11 177.90 L609.52 178.34 L610.94 178.79 L612.35 179.25 L613.75 179.73 L615.15 180.23 L616.53 180.74 L617.91 181.27 L619.27 181.81 L620.62 182.36 L621.96 182.94 L623.28 183.53 L624.60 184.14 L625.91 184.79 L627.23 185.47 L628.54 186.17 L629.84 186.91 L631.12 187.66 L632.40 188.44 L633.66 189.25 L634.90 190.07 L636.13 190.92 L637.32 191.78 L638.50 192.66 L639.64 193.55 L640.75 194.46 L641.84 195.40 L642.93 196.37 L643.99 197.38 L645.04 198.43 L646.08 199.51 L647.09 200.61 L648.07 201.74 L649.03 202.88 L649.97 204.05 L650.87 205.22 L651.73 206.41 L652.56 207.60 L653.37 208.80 L654.16 210.03 L654.95 211.28 L655.72 212.55 L656.48 213.84 L657.20 215.15 L657.89 216.47 L658.55 217.81 L659.16 219.16 L659.72 220.52 L660.22 221.88 L660.68 223.25 L661.10 224.64 L661.50 226.04 L661.87 227.47 L662.21 228.90 L662.51 230.36 L662.78 231.82 L663.00 233.30" fill="none" stroke="#328cc8" stroke-opacity="0.25" stroke-width="1.2"/>
<!-- zero line -->
<path d="M104.4 143.9H683.8" stroke="#777" stroke-width="1" fill="none"/>
<!-- curves -->
<path d="M104.40 163.00 L105.95 162.57 L107.50 162.13 L109.04 161.69 L110.59 161.26 L112.14 160.82 L113.69 160.38 L115.23 159.94 L116.78 159.49 L118.33 159.06 L119.88 158.63 L121.43 158.21 L122.98 157.80 L124.54 157.39 L126.09 156.98 L127.65 156.58 L129.21 156.19 L130.77 155.80 L132.33 155.42 L133.90 155.05 L135.46 154.68 L137.03 154.31 L138.60 153.96 L140.17 153.61 L141.74 153.27 L143.31 152.94 L144.89 152.61 L146.46 152.29 L148.04 151.98 L149.62 151.68 L151.20 151.38 L152.78 151.09 L154.36 150.81 L155.95 150.54 L157.54 150.28 L159.12 150.03 L160.71 149.78 L162.30 149.54 L163.89 149.31 L165.49 149.07 L167.08 148.84 L168.67 148.62 L170.26 148.39 L171.85 148.17 L173.45 147.95 L175.04 147.74 L176.64 147.53 L178.23 147.33 L179.83 147.14 L181.42 146.94 L183.02 146.75 L184.62 146.57 L186.22 146.39 L187.82 146.22 L189.42 146.06 L191.02 145.91 L192.62 145.76 L194.22 145.61 L195.82 145.48 L197.42 145.34 L199.03 145.22 L200.63 145.09 L202.23 144.97 L203.84 144.84 L205.44 144.73 L207.04 144.61 L208.65 144.50 L210.25 144.40 L211.86 144.31 L213.46 144.22 L215.07 144.15 L216.68 144.08 L218.28 144.02 L219.89 143.95 L221.50 143.88 L223.10 143.79 L224.71 143.70 L226.31 143.60 L227.92 143.50 L229.52 143.39 L231.13 143.28 L232.73 143.18 L234.34 143.08 L235.94 142.98 L237.55 142.89 L239.15 142.79 L240.76 142.70 L242.36 142.61 L243.97 142.51 L245.57 142.42 L247.18 142.33 L248.78 142.24 L250.39 142.14 L252.00 142.05 L253.60 141.96 L255.21 141.88 L256.81 141.81 L258.42 141.74 L260.03 141.68 L261.63 141.63 L263.24 141.57 L264.85 141.52 L266.46 141.47 L268.06 141.42 L269.67 141.36 L271.28 141.30 L272.88 141.24 L274.49 141.18 L276.10 141.12 L277.70 141.06 L279.31 141.02 L280.92 140.98 L282.53 140.95 L284.13 140.92 L285.74 140.89 L287.35 140.86 L288.96 140.84 L290.57 140.81 L292.17 140.78 L293.78 140.75 L295.39 140.72 L297.00 140.69 L298.60 140.67 L300.21 140.64 L301.82 140.62 L303.43 140.59 L305.04 140.57 L306.64 140.56 L308.25 140.54 L309.86 140.52 L311.47 140.51 L313.08 140.50 L314.68 140.50 L316.29 140.50 L317.90 140.51 L319.51 140.52 L321.12 140.53 L322.72 140.55 L324.33 140.56 L325.94 140.58 L327.55 140.60 L329.16 140.62 L330.76 140.64 L332.37 140.65 L333.98 140.67 L335.59 140.69 L337.20 140.70 L338.80 140.72 L340.41 140.73 L342.02 140.75 L343.63 140.76 L345.24 140.78 L346.84 140.79 L348.45 140.81 L350.06 140.82 L351.67 140.84 L353.28 140.85 L354.88 140.86 L356.49 140.88 L358.10 140.89 L359.71 140.90 L361.32 140.91 L362.92 140.92 L364.53 140.92 L366.14 140.93 L367.75 140.94 L369.36 140.94 L370.96 140.95 L372.57 140.95 L374.18 140.96 L375.79 140.97 L377.40 140.97 L379.00 140.98 L380.61 140.99 L382.22 141.00 L383.83 141.01 L385.44 141.02 L387.04 141.03 L388.65 141.04 L390.26 141.06 L391.87 141.07 L393.47 141.09 L395.08 141.11 L396.69 141.12 L398.30 141.14 L399.91 141.15 L401.51 141.17 L403.12 141.18 L404.73 141.19 L406.34 141.20 L407.95 141.21 L409.55 141.22 L411.16 141.23 L412.77 141.23 L414.38 141.24 L415.99 141.25 L417.59 141.25 L419.20 141.26 L420.81 141.27 L422.42 141.27 L424.03 141.28 L425.63 141.29 L427.24 141.29 L428.85 141.30 L430.46 141.31 L432.07 141.31 L433.67 141.32 L435.28 141.33 L436.89 141.33 L438.50 141.34 L440.11 141.34 L441.71 141.35 L443.32 141.36 L444.93 141.36 L446.54 141.37 L448.15 141.38 L449.75 141.39 L451.36 141.40 L452.97 141.41 L454.58 141.42 L456.19 141.43 L457.79 141.44 L459.40 141.45 L461.01 141.46 L462.62 141.47 L464.23 141.49 L465.84 141.50 L467.44 141.51 L469.05 141.53 L470.66 141.55 L472.27 141.57 L473.87 141.59 L475.48 141.61 L477.09 141.63 L478.70 141.66 L480.31 141.70 L481.91 141.74 L483.52 141.78 L485.13 141.82 L486.73 141.87 L488.34 141.92 L489.95 141.97 L491.56 142.01 L493.16 142.06 L494.77 142.11 L496.38 142.16 L497.99 142.20 L499.59 142.24 L501.20 142.28 L502.81 142.32 L504.42 142.36 L506.02 142.40 L507.63 142.44 L509.24 142.49 L510.85 142.53 L512.45 142.57 L514.06 142.61 L515.67 142.65 L517.28 142.70 L518.88 142.74 L520.49 142.79 L522.10 142.84 L523.71 142.89 L525.31 142.94 L526.92 142.99 L528.53 143.05 L530.13 143.10 L531.74 143.16 L533.35 143.21 L534.96 143.27 L536.56 143.33 L538.17 143.39 L539.78 143.45 L541.38 143.51 L542.99 143.57 L544.60 143.64 L546.20 143.70 L547.81 143.76 L549.42 143.83 L551.02 143.90 L552.63 143.97 L554.24 144.03 L555.84 144.10 L557.45 144.18 L559.06 144.25 L560.66 144.32 L562.27 144.40 L563.88 144.47 L565.48 144.55 L567.09 144.62 L568.69 144.70 L570.30 144.78 L571.91 144.86 L573.51 144.94 L575.12 145.02 L576.72 145.10 L578.33 145.19 L579.94 145.27 L581.54 145.36 L583.15 145.45 L584.75 145.54 L586.36 145.63 L587.96 145.72 L589.57 145.81 L591.17 145.90 L592.78 145.99 L594.39 146.09 L595.99 146.18 L597.60 146.27 L599.20 146.37 L600.81 146.47 L602.41 146.57 L604.02 146.67 L605.62 146.78 L607.23 146.89 L608.83 147.01 L610.43 147.13 L612.03 147.26 L613.64 147.40 L615.24 147.55 L616.83 147.70 L618.43 147.87 L620.03 148.05 L621.63 148.23 L623.23 148.42 L624.82 148.62 L626.42 148.82 L628.02 149.02 L629.61 149.22 L631.21 149.42 L632.80 149.63 L634.40 149.83 L636.00 150.02 L637.60 150.20 L639.20 150.38 L640.80 150.57 L642.40 150.78 L643.98 151.02 L645.55 151.31 L647.11 151.70 L648.66 152.17 L650.19 152.68 L651.70 153.21 L653.21 153.79 L654.70 154.41 L656.17 155.08 L657.60 155.79 L659.00 156.56 L660.39 157.39 L661.74 158.29 L663.05 159.24 L664.30 160.23 L665.50 161.28 L666.66 162.41 L667.77 163.59 L668.83 164.82 L669.83 166.07 L670.76 167.37 L671.63 168.72 L672.46 170.11 L673.24 171.52 L674.01 172.94 L674.78 174.37 L675.51 175.82 L676.12 177.30 L676.56 178.82 L676.93 180.37 L677.25 181.95 L677.53 183.54 L677.76 185.15 L677.97 186.75 L678.15 188.34 L678.31 189.94 L678.46 191.54 L678.59 193.15 L678.71 194.75 L678.82 196.36 L678.93 197.96 L679.04 199.57 L679.14 201.17 L679.23 202.78 L679.31 204.38 L679.40 205.99 L679.48 207.60 L679.56 209.20 L679.64 210.81 L679.72 212.41 L679.80 214.02 L679.88 215.63 L679.96 217.23 L680.03 218.84 L680.10 220.45 L680.17 222.05 L680.24 223.66 L680.30 225.27 L680.37 226.87 L680.43 228.48 L680.49 230.09 L680.55 231.69 L680.60 233.30" fill="none" stroke="#f07d05" stroke-width="3.9" stroke-dasharray="12.6 10.299999999999999" stroke-dashoffset="-22.88"/>
<path d="M104.40 173.40 L105.87 173.26 L107.33 173.12 L108.80 173.00 L110.26 172.88 L111.73 172.77 L113.20 172.67 L114.67 172.58 L116.14 172.48 L117.60 172.39 L119.07 172.30 L120.54 172.22 L122.01 172.14 L123.48 172.05 L124.95 171.97 L126.42 171.89 L127.89 171.81 L129.36 171.72 L130.83 171.64 L132.30 171.55 L133.77 171.47 L135.24 171.39 L136.70 171.30 L138.17 171.22 L139.64 171.14 L141.11 171.07 L142.58 171.00 L144.05 170.93 L145.52 170.86 L146.99 170.80 L148.46 170.74 L149.93 170.69 L151.40 170.64 L152.87 170.60 L154.35 170.55 L155.82 170.51 L157.29 170.46 L158.76 170.42 L160.23 170.38 L161.70 170.34 L163.17 170.29 L164.64 170.25 L166.11 170.20 L167.58 170.15 L169.05 170.09 L170.53 170.04 L172.00 169.99 L173.47 169.94 L174.94 169.88 L176.41 169.83 L177.88 169.77 L179.35 169.72 L180.82 169.66 L182.29 169.61 L183.76 169.55 L185.23 169.49 L186.70 169.43 L188.17 169.37 L189.64 169.31 L191.11 169.25 L192.58 169.19 L194.05 169.12 L195.52 169.06 L196.99 169.00 L198.46 168.93 L199.93 168.87 L201.40 168.81 L202.87 168.75 L204.34 168.69 L205.81 168.62 L207.28 168.56 L208.75 168.50 L210.22 168.43 L211.69 168.37 L213.16 168.30 L214.64 168.24 L216.11 168.18 L217.58 168.12 L219.05 168.06 L220.52 168.01 L221.99 167.96 L223.46 167.92 L224.93 167.88 L226.40 167.84 L227.87 167.80 L229.34 167.77 L230.81 167.74 L232.28 167.71 L233.76 167.68 L235.23 167.65 L236.70 167.62 L238.17 167.60 L239.64 167.57 L241.11 167.54 L242.58 167.51 L244.05 167.48 L245.53 167.45 L247.00 167.42 L248.47 167.38 L249.94 167.35 L251.41 167.32 L252.88 167.29 L254.35 167.26 L255.82 167.23 L257.30 167.20 L258.77 167.17 L260.24 167.14 L261.71 167.11 L263.18 167.08 L264.65 167.04 L266.12 167.01 L267.59 166.98 L269.07 166.95 L270.54 166.92 L272.01 166.89 L273.48 166.86 L274.95 166.83 L276.42 166.80 L277.89 166.77 L279.36 166.73 L280.84 166.70 L282.31 166.67 L283.78 166.64 L285.25 166.61 L286.72 166.58 L288.19 166.54 L289.66 166.51 L291.13 166.48 L292.61 166.45 L294.08 166.42 L295.55 166.39 L297.02 166.36 L298.49 166.33 L299.96 166.30 L301.43 166.27 L302.90 166.25 L304.38 166.22 L305.85 166.20 L307.32 166.18 L308.79 166.15 L310.26 166.13 L311.73 166.11 L313.20 166.09 L314.67 166.06 L316.15 166.04 L317.62 166.02 L319.09 166.01 L320.56 165.99 L322.03 165.97 L323.50 165.95 L324.97 165.94 L326.45 165.92 L327.92 165.90 L329.39 165.89 L330.86 165.87 L332.33 165.86 L333.80 165.84 L335.28 165.83 L336.75 165.81 L338.22 165.80 L339.69 165.78 L341.16 165.77 L342.63 165.75 L344.10 165.74 L345.58 165.72 L347.05 165.71 L348.52 165.69 L349.99 165.68 L351.46 165.66 L352.93 165.65 L354.40 165.63 L355.88 165.62 L357.35 165.60 L358.82 165.59 L360.29 165.57 L361.76 165.56 L363.23 165.54 L364.70 165.52 L366.18 165.50 L367.65 165.49 L369.12 165.47 L370.59 165.45 L372.06 165.44 L373.53 165.43 L375.00 165.41 L376.48 165.40 L377.95 165.39 L379.42 165.38 L380.89 165.37 L382.36 165.36 L383.83 165.35 L385.31 165.34 L386.78 165.33 L388.25 165.32 L389.72 165.31 L391.19 165.31 L392.66 165.30 L394.13 165.30 L395.61 165.30 L397.08 165.30 L398.55 165.30 L400.02 165.30 L401.49 165.30 L402.96 165.30 L404.44 165.30 L405.91 165.30 L407.38 165.30 L408.85 165.30 L410.32 165.30 L411.79 165.30 L413.26 165.30 L414.74 165.30 L416.21 165.30 L417.68 165.30 L419.15 165.31 L420.62 165.31 L422.09 165.32 L423.57 165.33 L425.04 165.34 L426.51 165.34 L427.98 165.35 L429.45 165.37 L430.92 165.38 L432.39 165.39 L433.87 165.40 L435.34 165.41 L436.81 165.43 L438.28 165.45 L439.75 165.47 L441.22 165.49 L442.69 165.52 L444.17 165.54 L445.64 165.57 L447.11 165.60 L448.58 165.62 L450.05 165.65 L451.52 165.68 L452.99 165.70 L454.46 165.72 L455.94 165.75 L457.41 165.77 L458.88 165.79 L460.35 165.82 L461.82 165.84 L463.29 165.86 L464.76 165.89 L466.24 165.91 L467.71 165.93 L469.18 165.96 L470.65 165.98 L472.12 166.00 L473.59 166.02 L475.06 166.05 L476.54 166.07 L478.01 166.09 L479.48 166.11 L480.95 166.14 L482.42 166.16 L483.89 166.18 L485.36 166.20 L486.83 166.23 L488.31 166.25 L489.78 166.28 L491.25 166.30 L492.72 166.33 L494.19 166.36 L495.66 166.39 L497.13 166.41 L498.61 166.44 L500.08 166.47 L501.55 166.50 L503.02 166.53 L504.49 166.56 L505.96 166.60 L507.43 166.63 L508.90 166.67 L510.37 166.71 L511.85 166.75 L513.32 166.79 L514.79 166.84 L516.26 166.89 L517.73 166.94 L519.20 166.99 L520.67 167.05 L522.14 167.10 L523.61 167.16 L525.08 167.23 L526.55 167.29 L528.02 167.35 L529.49 167.42 L530.96 167.49 L532.43 167.57 L533.90 167.65 L535.37 167.73 L536.84 167.82 L538.31 167.91 L539.78 168.01 L541.25 168.10 L542.71 168.20 L544.18 168.31 L545.65 168.42 L547.12 168.53 L548.58 168.65 L550.05 168.77 L551.51 168.91 L552.98 169.05 L554.44 169.20 L555.90 169.36 L557.37 169.52 L558.83 169.69 L560.29 169.85 L561.75 170.02 L563.22 170.18 L564.68 170.35 L566.14 170.51 L567.61 170.66 L569.07 170.81 L570.54 170.96 L572.00 171.10 L573.47 171.24 L574.94 171.38 L576.40 171.52 L577.87 171.68 L579.33 171.84 L580.79 172.01 L582.24 172.20 L583.70 172.40 L585.15 172.62 L586.60 172.85 L588.05 173.11 L589.50 173.37 L590.95 173.66 L592.40 173.95 L593.84 174.26 L595.28 174.58 L596.72 174.91 L598.15 175.24 L599.58 175.59 L601.01 175.95 L602.42 176.31 L603.84 176.68 L605.26 177.07 L606.69 177.48 L608.11 177.90 L609.52 178.34 L610.94 178.79 L612.35 179.25 L613.75 179.73 L615.15 180.23 L616.53 180.74 L617.91 181.27 L619.27 181.81 L620.62 182.36 L621.96 182.94 L623.28 183.53 L624.60 184.14 L625.91 184.79 L627.23 185.47 L628.54 186.17 L629.84 186.91 L631.12 187.66 L632.40 188.44 L633.66 189.25 L634.90 190.07 L636.13 190.92 L637.32 191.78 L638.50 192.66 L639.64 193.55 L640.75 194.46 L641.84 195.40 L642.93 196.37 L643.99 197.38 L645.04 198.43 L646.08 199.51 L647.09 200.61 L648.07 201.74 L649.03 202.88 L649.97 204.05 L650.87 205.22 L651.73 206.41 L652.56 207.60 L653.37 208.80 L654.16 210.03 L654.95 211.28 L655.72 212.55 L656.48 213.84 L657.20 215.15 L657.89 216.47 L658.55 217.81 L659.16 219.16 L659.72 220.52 L660.22 221.88 L660.68 223.25 L661.10 224.64 L661.50 226.04 L661.87 227.47 L662.21 228.90 L662.51 230.36 L662.78 231.82 L663.00 233.30" fill="none" stroke="#328cc8" stroke-width="3.9" stroke-dasharray="9.7 9.350000000000001" stroke-dashoffset="-0.46"/>
<path d="M104.40 11.60 L105.85 13.45 L107.30 15.74 L108.75 18.56 L110.20 21.48 L111.65 24.04 L113.11 26.22 L114.56 28.23 L116.01 30.12 L117.46 31.96 L118.91 33.80 L120.36 35.62 L121.81 37.41 L123.26 39.13 L124.71 40.76 L126.16 42.27 L127.61 43.68 L129.06 45.01 L130.52 46.28 L131.97 47.53 L133.42 48.79 L134.87 50.07 L136.32 51.36 L137.77 52.66 L139.22 53.93 L140.67 55.16 L142.12 56.35 L143.57 57.47 L145.02 58.55 L146.48 59.59 L147.93 60.61 L149.38 61.60 L150.83 62.57 L152.28 63.52 L153.73 64.45 L155.18 65.36 L156.63 66.24 L158.08 67.12 L159.53 67.98 L160.98 68.83 L162.44 69.67 L163.89 70.51 L165.34 71.35 L166.79 72.17 L168.24 72.98 L169.69 73.76 L171.14 74.52 L172.59 75.24 L174.04 75.93 L175.49 76.60 L176.94 77.25 L178.39 77.88 L179.85 78.51 L181.30 79.13 L182.75 79.75 L184.20 80.37 L185.65 80.98 L187.10 81.59 L188.55 82.19 L190.00 82.78 L191.45 83.36 L192.90 83.92 L194.35 84.48 L195.81 85.03 L197.26 85.56 L198.71 86.09 L200.16 86.61 L201.61 87.13 L203.06 87.63 L204.51 88.13 L205.96 88.62 L207.41 89.11 L208.86 89.59 L210.31 90.06 L211.76 90.52 L213.22 90.96 L214.67 91.40 L216.12 91.82 L217.57 92.23 L219.02 92.64 L220.47 93.03 L221.92 93.42 L223.37 93.80 L224.82 94.17 L226.27 94.55 L227.72 94.91 L229.18 95.27 L230.63 95.62 L232.08 95.97 L233.53 96.32 L234.98 96.67 L236.43 97.01 L237.88 97.36 L239.33 97.71 L240.78 98.05 L242.23 98.40 L243.68 98.74 L245.14 99.08 L246.59 99.41 L248.04 99.73 L249.49 100.04 L250.94 100.35 L252.39 100.65 L253.84 100.95 L255.29 101.25 L256.74 101.54 L258.19 101.83 L259.64 102.13 L261.09 102.43 L262.55 102.74 L264.00 103.04 L265.45 103.34 L266.90 103.63 L268.35 103.92 L269.80 104.20 L271.25 104.48 L272.70 104.75 L274.15 105.01 L275.60 105.27 L277.05 105.53 L278.51 105.78 L279.96 106.02 L281.41 106.27 L282.86 106.51 L284.31 106.74 L285.76 106.96 L287.21 107.18 L288.66 107.41 L290.11 107.63 L291.56 107.85 L293.01 108.09 L294.46 108.32 L295.92 108.57 L297.37 108.82 L298.82 109.07 L300.27 109.32 L301.72 109.56 L303.17 109.80 L304.62 110.03 L306.07 110.26 L307.52 110.48 L308.97 110.70 L310.42 110.91 L311.88 111.13 L313.33 111.34 L314.78 111.54 L316.23 111.75 L317.68 111.95 L319.13 112.14 L320.58 112.34 L322.03 112.53 L323.48 112.72 L324.93 112.91 L326.38 113.11 L327.84 113.30 L329.29 113.49 L330.74 113.69 L332.19 113.88 L333.64 114.08 L335.09 114.27 L336.54 114.45 L337.99 114.63 L339.44 114.80 L340.89 114.96 L342.34 115.12 L343.79 115.27 L345.25 115.42 L346.70 115.57 L348.15 115.72 L349.60 115.87 L351.05 116.02 L352.50 116.17 L353.95 116.32 L355.40 116.47 L356.85 116.62 L358.30 116.78 L359.75 116.93 L361.21 117.08 L362.66 117.23 L364.11 117.39 L365.56 117.54 L367.01 117.70 L368.46 117.85 L369.91 118.00 L371.36 118.16 L372.81 118.31 L374.26 118.47 L375.71 118.62 L377.16 118.78 L378.62 118.93 L380.07 119.09 L381.52 119.24 L382.97 119.38 L384.42 119.52 L385.87 119.66 L387.32 119.79 L388.77 119.91 L390.22 120.04 L391.67 120.16 L393.12 120.28 L394.58 120.40 L396.03 120.52 L397.48 120.63 L398.93 120.74 L400.38 120.85 L401.83 120.96 L403.28 121.06 L404.73 121.17 L406.18 121.28 L407.63 121.40 L409.08 121.52 L410.54 121.65 L411.99 121.77 L413.44 121.90 L414.89 122.03 L416.34 122.16 L417.79 122.29 L419.24 122.43 L420.69 122.56 L422.14 122.70 L423.59 122.85 L425.04 122.99 L426.49 123.12 L427.95 123.25 L429.40 123.38 L430.85 123.49 L432.30 123.60 L433.75 123.70 L435.20 123.80 L436.65 123.89 L438.10 123.99 L439.55 124.09 L441.00 124.19 L442.45 124.29 L443.91 124.39 L445.36 124.49 L446.81 124.60 L448.26 124.70 L449.71 124.80 L451.16 124.90 L452.61 124.99 L454.06 125.09 L455.51 125.18 L456.96 125.27 L458.41 125.36 L459.86 125.45 L461.32 125.54 L462.77 125.62 L464.22 125.71 L465.67 125.80 L467.12 125.89 L468.57 125.98 L470.02 126.07 L471.47 126.16 L472.92 126.25 L474.37 126.34 L475.82 126.43 L477.28 126.51 L478.73 126.60 L480.18 126.69 L481.63 126.77 L483.08 126.86 L484.53 126.95 L485.98 127.04 L487.43 127.13 L488.88 127.23 L490.33 127.33 L491.78 127.43 L493.24 127.53 L494.69 127.64 L496.14 127.74 L497.59 127.84 L499.04 127.94 L500.49 128.05 L501.94 128.15 L503.39 128.25 L504.84 128.35 L506.29 128.45 L507.74 128.55 L509.19 128.65 L510.65 128.75 L512.10 128.86 L513.55 128.97 L515.00 129.07 L516.45 129.18 L517.90 129.28 L519.35 129.38 L520.80 129.48 L522.25 129.56 L523.70 129.64 L525.15 129.72 L526.61 129.79 L528.06 129.87 L529.51 129.94 L530.96 130.01 L532.41 130.08 L533.86 130.16 L535.31 130.24 L536.76 130.32 L538.21 130.40 L539.66 130.48 L541.11 130.56 L542.56 130.63 L544.02 130.70 L545.47 130.77 L546.92 130.83 L548.37 130.90 L549.82 130.96 L551.27 131.02 L552.72 131.08 L554.17 131.14 L555.62 131.20 L557.07 131.26 L558.52 131.33 L559.98 131.39 L561.43 131.46 L562.88 131.52 L564.33 131.59 L565.78 131.65 L567.23 131.71 L568.68 131.78 L570.13 131.84 L571.58 131.90 L573.03 131.96 L574.48 132.02 L575.94 132.09 L577.39 132.15 L578.84 132.22 L580.29 132.29 L581.74 132.36 L583.19 132.44 L584.64 132.51 L586.09 132.59 L587.54 132.67 L588.99 132.75 L590.44 132.83 L591.89 132.92 L593.35 133.01 L594.80 133.10 L596.25 133.20 L597.70 133.29 L599.15 133.38 L600.60 133.47 L602.05 133.55 L603.50 133.63 L604.95 133.71 L606.40 133.78 L607.85 133.85 L609.31 133.92 L610.76 134.00 L612.21 134.08 L613.66 134.16 L615.11 134.25 L616.56 134.33 L618.01 134.43 L619.46 134.52 L620.91 134.61 L622.36 134.70 L623.81 134.79 L625.26 134.88 L626.72 134.97 L628.17 135.05 L629.62 135.14 L631.07 135.23 L632.52 135.32 L633.97 135.41 L635.42 135.50 L636.87 135.58 L638.32 135.67 L639.77 135.76 L641.22 135.85 L642.68 135.94 L644.13 136.03 L645.58 136.12 L647.03 136.21 L648.48 136.31 L649.93 136.41 L651.38 136.51 L652.83 136.61 L654.28 136.71 L655.73 136.81 L657.18 136.92 L658.64 137.02 L660.09 137.13 L661.54 137.23 L662.99 137.33 L664.44 137.43 L665.89 137.55 L667.34 137.67 L668.79 137.80 L670.24 137.95 L671.69 138.12 L673.14 138.31 L674.59 138.51 L676.05 138.74 L677.50 138.99 L678.95 139.25 L680.40 139.52 L681.85 139.83 L683.30 140.20" fill="none" stroke="#c8203f" stroke-width="3.8" stroke-dasharray="3.8 7.64" stroke-dashoffset="-1.32"/>
<path d="M104.40 59.60 L105.48 60.68 L106.51 61.82 L107.50 62.99 L108.46 64.18 L109.43 65.38 L110.40 66.56 L111.39 67.73 L112.42 68.85 L113.48 69.96 L114.56 71.05 L115.65 72.13 L116.75 73.19 L117.86 74.25 L118.97 75.31 L120.08 76.37 L121.19 77.43 L122.30 78.49 L123.44 79.50 L124.62 80.47 L125.82 81.42 L127.03 82.36 L128.26 83.29 L129.50 84.21 L130.75 85.11 L132.01 85.99 L133.29 86.85 L134.58 87.70 L135.88 88.51 L137.18 89.31 L138.50 90.08 L139.82 90.82 L141.15 91.54 L142.51 92.24 L143.87 92.92 L145.25 93.58 L146.64 94.23 L148.04 94.87 L149.44 95.49 L150.86 96.10 L152.28 96.70 L153.70 97.29 L155.12 97.88 L156.55 98.46 L157.97 99.03 L159.39 99.60 L160.81 100.16 L162.24 100.72 L163.67 101.28 L165.10 101.83 L166.53 102.38 L167.97 102.92 L169.41 103.45 L170.86 103.96 L172.30 104.47 L173.75 104.97 L175.21 105.45 L176.66 105.92 L178.12 106.38 L179.59 106.81 L181.05 107.24 L182.53 107.66 L184.00 108.06 L185.48 108.46 L186.96 108.85 L188.45 109.23 L189.94 109.60 L191.43 109.97 L192.92 110.32 L194.42 110.67 L195.91 111.01 L197.41 111.35 L198.90 111.68 L200.40 112.00 L201.90 112.31 L203.40 112.62 L204.90 112.91 L206.40 113.20 L207.91 113.48 L209.42 113.77 L210.92 114.04 L212.43 114.32 L213.94 114.60 L215.44 114.87 L216.95 115.16 L218.46 115.44 L219.96 115.73 L221.47 116.02 L222.97 116.31 L224.47 116.60 L225.98 116.89 L227.48 117.18 L228.99 117.47 L230.49 117.76 L231.99 118.05 L233.50 118.34 L235.00 118.63 L236.51 118.92 L238.01 119.20 L239.52 119.48 L241.03 119.77 L242.53 120.05 L244.04 120.34 L245.54 120.62 L247.05 120.90 L248.55 121.18 L250.06 121.46 L251.57 121.74 L253.07 122.01 L254.58 122.28 L256.09 122.55 L257.60 122.80 L259.11 123.05 L260.62 123.30 L262.14 123.54 L263.65 123.77 L265.16 124.00 L266.68 124.23 L268.20 124.45 L269.71 124.68 L271.23 124.89 L272.75 125.11 L274.26 125.32 L275.78 125.53 L277.30 125.74 L278.82 125.95 L280.33 126.15 L281.85 126.36 L283.37 126.56 L284.89 126.76 L286.41 126.95 L287.93 127.15 L289.45 127.34 L290.97 127.53 L292.49 127.72 L294.01 127.90 L295.53 128.09 L297.05 128.27 L298.57 128.45 L300.09 128.63 L301.62 128.80 L303.14 128.98 L304.66 129.15 L306.18 129.32 L307.71 129.48 L309.23 129.65 L310.75 129.82 L312.28 129.98 L313.80 130.14 L315.32 130.31 L316.84 130.48 L318.37 130.64 L319.89 130.81 L321.41 130.98 L322.94 131.15 L324.46 131.32 L325.98 131.49 L327.50 131.66 L329.02 131.84 L330.55 132.01 L332.07 132.18 L333.59 132.35 L335.11 132.52 L336.64 132.68 L338.16 132.85 L339.68 133.01 L341.21 133.17 L342.73 133.33 L344.25 133.49 L345.78 133.64 L347.30 133.80 L348.83 133.95 L350.35 134.10 L351.88 134.26 L353.40 134.41 L354.92 134.56 L356.45 134.71 L357.97 134.86 L359.50 135.01 L361.02 135.16 L362.55 135.31 L364.07 135.46 L365.60 135.61 L367.12 135.75 L368.65 135.90 L370.17 136.05 L371.70 136.19 L373.22 136.34 L374.75 136.48 L376.27 136.63 L377.80 136.77 L379.32 136.91 L380.85 137.05 L382.37 137.19 L383.90 137.33 L385.42 137.47 L386.95 137.61 L388.48 137.75 L390.00 137.89 L391.53 138.02 L393.05 138.16 L394.58 138.30 L396.10 138.44 L397.63 138.58 L399.16 138.71 L400.68 138.85 L402.21 138.99 L403.73 139.13 L405.26 139.27 L406.78 139.40 L408.31 139.54 L409.84 139.68 L411.36 139.82 L412.89 139.96 L414.41 140.10 L415.94 140.24 L417.46 140.38 L418.99 140.52 L420.51 140.67 L422.04 140.82 L423.56 140.96 L425.09 141.11 L426.61 141.27 L428.14 141.42 L429.66 141.57 L431.18 141.72 L432.71 141.88 L434.23 142.03 L435.76 142.18 L437.28 142.33 L438.81 142.48 L440.33 142.63 L441.86 142.78 L443.38 142.92 L444.91 143.07 L446.43 143.21 L447.96 143.36 L449.48 143.50 L451.01 143.64 L452.53 143.79 L454.06 143.93 L455.58 144.08 L457.11 144.22 L458.63 144.37 L460.16 144.52 L461.68 144.67 L463.21 144.82 L464.73 144.97 L466.25 145.12 L467.78 145.28 L469.30 145.44 L470.83 145.59 L472.35 145.75 L473.88 145.90 L475.40 146.05 L476.92 146.20 L478.45 146.35 L479.97 146.50 L481.50 146.64 L483.02 146.78 L484.55 146.91 L486.08 147.05 L487.60 147.18 L489.13 147.31 L490.66 147.44 L492.18 147.58 L493.71 147.71 L495.23 147.85 L496.76 147.99 L498.28 148.13 L499.81 148.28 L501.33 148.43 L502.86 148.59 L504.38 148.74 L505.91 148.90 L507.43 149.06 L508.95 149.22 L510.48 149.38 L512.00 149.55 L513.52 149.73 L515.04 149.90 L516.57 150.09 L518.08 150.28 L519.60 150.47 L521.12 150.68 L522.64 150.89 L524.15 151.12 L525.66 151.35 L527.18 151.59 L528.69 151.84 L530.20 152.09 L531.71 152.35 L533.22 152.61 L534.73 152.87 L536.24 153.13 L537.75 153.39 L539.26 153.64 L540.77 153.90 L542.28 154.16 L543.79 154.41 L545.30 154.67 L546.81 154.93 L548.32 155.20 L549.83 155.46 L551.34 155.73 L552.85 156.00 L554.36 156.27 L555.86 156.55 L557.37 156.82 L558.88 157.10 L560.38 157.38 L561.89 157.67 L563.39 157.95 L564.90 158.24 L566.40 158.53 L567.91 158.82 L569.41 159.12 L570.91 159.41 L572.42 159.71 L573.92 160.02 L575.42 160.33 L576.92 160.64 L578.42 160.96 L579.91 161.28 L581.41 161.61 L582.91 161.93 L584.41 162.26 L585.91 162.59 L587.41 162.92 L588.90 163.27 L590.39 163.63 L591.87 164.01 L593.35 164.40 L594.82 164.81 L596.29 165.24 L597.75 165.69 L599.21 166.17 L600.66 166.66 L602.11 167.18 L603.56 167.71 L604.99 168.26 L606.42 168.82 L607.83 169.40 L609.24 170.00 L610.63 170.61 L612.02 171.25 L613.40 171.91 L614.78 172.60 L616.15 173.30 L617.51 174.03 L618.86 174.78 L620.20 175.54 L621.52 176.33 L622.82 177.13 L624.10 177.94 L625.37 178.77 L626.63 179.63 L627.88 180.51 L629.12 181.42 L630.35 182.35 L631.57 183.30 L632.77 184.27 L633.96 185.26 L635.13 186.26 L636.28 187.28 L637.41 188.31 L638.52 189.35 L639.61 190.41 L640.69 191.48 L641.76 192.59 L642.81 193.72 L643.84 194.87 L644.85 196.04 L645.83 197.23 L646.77 198.44 L647.68 199.66 L648.55 200.90 L649.39 202.17 L650.21 203.46 L651.01 204.77 L651.79 206.10 L652.55 207.45 L653.28 208.81 L653.98 210.18 L654.66 211.56 L655.31 212.94 L655.93 214.33 L656.54 215.73 L657.12 217.15 L657.69 218.57 L658.24 220.01 L658.75 221.46 L659.25 222.92 L659.71 224.38 L660.14 225.84 L660.54 227.32 L660.92 228.80 L661.27 230.29 L661.60 231.79 L661.90 233.30" fill="none" stroke="#000" stroke-width="3.6" stroke-linejoin="round"/>
</g>
<!-- frame -->
<g stroke="#000" stroke-width="1.5" fill="none">
<path stroke-width="2.3" d="M135.70 233.7 v-3.4 M135.70 1.0 v3.4"/>
<path stroke-width="2.3" d="M166.50 233.7 v-5.6 M166.50 1.0 v5.6"/>
<path stroke-width="2.3" d="M197.30 233.7 v-3.4 M197.30 1.0 v3.4"/>
<path stroke-width="2.3" d="M228.10 233.7 v-3.4 M228.10 1.0 v3.4"/>
<path stroke-width="2.3" d="M258.90 233.7 v-3.4 M258.90 1.0 v3.4"/>
<path stroke-width="2.3" d="M289.70 233.7 v-3.4 M289.70 1.0 v3.4"/>
<path stroke-width="2.3" d="M320.50 233.7 v-5.6 M320.50 1.0 v5.6"/>
<path stroke-width="2.3" d="M351.30 233.7 v-3.4 M351.30 1.0 v3.4"/>
<path stroke-width="2.3" d="M382.10 233.7 v-3.4 M382.10 1.0 v3.4"/>
<path stroke-width="2.3" d="M412.90 233.7 v-3.4 M412.90 1.0 v3.4"/>
<path stroke-width="2.3" d="M443.70 233.7 v-3.4 M443.70 1.0 v3.4"/>
<path stroke-width="2.3" d="M474.50 233.7 v-5.6 M474.50 1.0 v5.6"/>
<path stroke-width="2.3" d="M505.30 233.7 v-3.4 M505.30 1.0 v3.4"/>
<path stroke-width="2.3" d="M536.10 233.7 v-3.4 M536.10 1.0 v3.4"/>
<path stroke-width="2.3" d="M566.90 233.7 v-3.4 M566.90 1.0 v3.4"/>
<path stroke-width="2.3" d="M597.70 233.7 v-3.4 M597.70 1.0 v3.4"/>
<path stroke-width="2.3" d="M628.50 233.7 v-5.6 M628.50 1.0 v5.6"/>
<path stroke-width="2.3" d="M659.30 233.7 v-3.4 M659.30 1.0 v3.4"/>
<path d="M104.4 224.18 h3.4 M683.8 224.18 h-3.4"/>
<path d="M104.4 215.26 h3.4 M683.8 215.26 h-3.4"/>
<path d="M104.4 206.34 h3.4 M683.8 206.34 h-3.4"/>
<path d="M104.4 197.42 h3.4 M683.8 197.42 h-3.4"/>
<path d="M104.4 188.50 h5.6 M683.8 188.50 h-5.6"/>
<path d="M104.4 179.58 h3.4 M683.8 179.58 h-3.4"/>
<path d="M104.4 170.66 h3.4 M683.8 170.66 h-3.4"/>
<path d="M104.4 161.74 h3.4 M683.8 161.74 h-3.4"/>
<path d="M104.4 152.82 h3.4 M683.8 152.82 h-3.4"/>
<path d="M104.4 143.90 h5.6 M683.8 143.90 h-5.6"/>
<path d="M104.4 134.98 h3.4 M683.8 134.98 h-3.4"/>
<path d="M104.4 126.06 h3.4 M683.8 126.06 h-3.4"/>
<path d="M104.4 117.14 h3.4 M683.8 117.14 h-3.4"/>
<path d="M104.4 108.22 h3.4 M683.8 108.22 h-3.4"/>
<path d="M104.4 99.30 h5.6 M683.8 99.30 h-5.6"/>
<path d="M104.4 90.38 h3.4 M683.8 90.38 h-3.4"/>
<path d="M104.4 81.46 h3.4 M683.8 81.46 h-3.4"/>
<path d="M104.4 72.54 h3.4 M683.8 72.54 h-3.4"/>
<path d="M104.4 63.62 h3.4 M683.8 63.62 h-3.4"/>
<path d="M104.4 54.70 h5.6 M683.8 54.70 h-5.6"/>
<path d="M104.4 45.78 h3.4 M683.8 45.78 h-3.4"/>
<path d="M104.4 36.86 h3.4 M683.8 36.86 h-3.4"/>
<path d="M104.4 27.94 h3.4 M683.8 27.94 h-3.4"/>
<path d="M104.4 19.02 h3.4 M683.8 19.02 h-3.4"/>
<path d="M104.4 10.10 h5.6 M683.8 10.10 h-5.6"/>
</g>
<rect x="104.4" y="1.0" width="579.4" height="232.7" fill="none" stroke="#000" stroke-width="2.8"/>
<path d="M103.10000000000001 233.6H685.0999999999999" stroke="#000" stroke-width="3.1" fill="none"/>
<!-- legend -->
<rect x="183.6" y="7.8" width="492.8" height="66.7" rx="3.2" ry="3.2" fill="#fff" stroke="#000" stroke-width="1.3"/>
<path d="M197.9 44.8H226" stroke="#f07d05" stroke-width="3.6" stroke-dasharray="12.9 10.2" fill="none"/>
<path d="M301 44.8H329.4" stroke="#328cc8" stroke-width="3.8" stroke-dasharray="10.3 8.6" fill="none"/>
<path d="M426 44.8H454" stroke="#c8203f" stroke-width="3.9" stroke-dasharray="4 7.4" fill="none"/>
<path d="M556.8 44.3H589" stroke="#000" stroke-width="3.4" fill="none"/>
<text x="607" y="49.2" font-size="23.4" letter-spacing="0.5">Total</text>
<!-- diagram 1 -->
<g stroke="#000" stroke-width="1.15" fill="none" stroke-dasharray="3.6 2.8">
<circle cx="259.75" cy="34" r="10.4"/>
<path d="M259.75 44.7L248.2 55.4M259.75 44.7L271 55.4"/>
</g>
<circle cx="259.75" cy="44.7" r="2.4" fill="#000"/>
<!-- diagram 2 -->
<g stroke="#000" stroke-width="1.1" fill="none">
<path d="M349.1 41.3H363.5M397.4 41.3H383.5" stroke-dasharray="2.9 2.2"/>
<path d="M383.20 41.30 L383.47 41.39 L383.73 41.48 L383.96 41.58 L384.16 41.68 L384.32 41.78 L384.42 41.88 L384.47 41.98 L384.47 42.07 L384.40 42.17 L384.28 42.25 L384.12 42.33 L383.91 42.40 L383.66 42.47 L383.40 42.53 L383.12 42.58 L382.84 42.63 L382.57 42.67 L382.32 42.71 L382.11 42.76 L381.94 42.81 L381.82 42.86 L381.75 42.92 L381.74 43.00 L381.78 43.08 L381.87 43.18 L382.01 43.29 L382.19 43.41 L382.40 43.54 L382.63 43.69 L382.87 43.84 L383.10 43.99 L383.33 44.15 L383.53 44.30 L383.70 44.45 L383.82 44.59 L383.90 44.71 L383.92 44.82 L383.89 44.91 L383.80 44.98 L383.67 45.04 L383.48 45.07 L383.26 45.09 L383.01 45.09 L382.74 45.07 L382.45 45.05 L382.17 45.02 L381.90 45.00 L381.65 44.98 L381.44 44.96 L381.26 44.97 L381.13 44.99 L381.05 45.03 L381.01 45.10 L381.03 45.19 L381.09 45.31 L381.20 45.45 L381.34 45.61 L381.51 45.79 L381.69 45.99 L381.89 46.20 L382.08 46.41 L382.25 46.62 L382.41 46.82 L382.53 47.01 L382.61 47.17 L382.66 47.31 L382.65 47.42 L382.60 47.50 L382.50 47.55 L382.35 47.57 L382.16 47.55 L381.95 47.51 L381.70 47.44 L381.44 47.36 L381.17 47.27 L380.91 47.17 L380.66 47.07 L380.42 46.99 L380.22 46.92 L380.04 46.88 L379.91 46.86 L379.82 46.88 L379.77 46.94 L379.76 47.03 L379.80 47.16 L379.86 47.32 L379.95 47.52 L380.07 47.74 L380.20 47.98 L380.33 48.23 L380.46 48.48 L380.57 48.73 L380.67 48.96 L380.74 49.17 L380.78 49.36 L380.78 49.50 L380.75 49.61 L380.68 49.67 L380.57 49.69 L380.42 49.67 L380.25 49.61 L380.05 49.51 L379.83 49.38 L379.60 49.24 L379.37 49.07 L379.14 48.91 L378.91 48.75 L378.71 48.61 L378.53 48.49 L378.38 48.41 L378.25 48.36 L378.16 48.35 L378.10 48.39 L378.06 48.48 L378.06 48.62 L378.08 48.79 L378.12 49.00 L378.18 49.25 L378.24 49.51 L378.30 49.79 L378.36 50.06 L378.41 50.33 L378.44 50.58 L378.45 50.81 L378.44 50.99 L378.41 51.13 L378.35 51.23 L378.26 51.27 L378.15 51.26 L378.02 51.20 L377.86 51.10 L377.70 50.95 L377.52 50.77 L377.33 50.57 L377.15 50.35 L376.97 50.14 L376.80 49.93 L376.64 49.74 L376.49 49.57 L376.37 49.45 L376.26 49.37 L376.17 49.34 L376.10 49.37 L376.05 49.44 L376.01 49.57 L375.98 49.75 L375.97 49.96 L375.96 50.21 L375.95 50.48 L375.94 50.77 L375.92 51.05 L375.90 51.32 L375.87 51.57 L375.82 51.79 L375.76 51.97 L375.69 52.10 L375.61 52.17 L375.52 52.19 L375.41 52.15 L375.30 52.06 L375.18 51.92 L375.05 51.73 L374.93 51.52 L374.80 51.27 L374.68 51.02 L374.56 50.76 L374.45 50.51 L374.34 50.29 L374.25 50.09 L374.16 49.94 L374.07 49.84 L373.99 49.79 L373.92 49.79 L373.85 49.85 L373.78 49.97 L373.71 50.13 L373.64 50.33 L373.56 50.57 L373.48 50.83 L373.40 51.10 L373.31 51.37 L373.22 51.63 L373.12 51.86 L373.02 52.06 L372.92 52.22 L372.82 52.32 L372.72 52.37 L372.63 52.37 L372.53 52.30 L372.45 52.18 L372.37 52.02 L372.30 51.81 L372.23 51.56 L372.17 51.30 L372.12 51.02 L372.07 50.74 L372.03 50.47 L371.99 50.22 L371.94 50.01 L371.89 49.84 L371.84 49.72 L371.78 49.65 L371.70 49.64 L371.62 49.68 L371.52 49.77 L371.41 49.91 L371.29 50.09 L371.16 50.30 L371.01 50.53 L370.86 50.77 L370.71 51.00 L370.55 51.23 L370.40 51.43 L370.25 51.60 L370.11 51.72 L369.99 51.80 L369.88 51.82 L369.79 51.79 L369.72 51.70 L369.66 51.57 L369.63 51.38 L369.61 51.16 L369.61 50.91 L369.63 50.64 L369.65 50.35 L369.68 50.07 L369.70 49.80 L369.72 49.55 L369.74 49.34 L369.73 49.16 L369.71 49.03 L369.67 48.95 L369.60 48.91 L369.51 48.93 L369.39 48.99 L369.25 49.10 L369.09 49.24 L368.91 49.41 L368.71 49.59 L368.50 49.79 L368.29 49.98 L368.08 50.15 L367.88 50.31 L367.69 50.43 L367.53 50.51 L367.39 50.56 L367.28 50.55 L367.20 50.50 L367.15 50.40 L367.13 50.25 L367.15 50.06 L367.19 49.85 L367.26 49.60 L367.34 49.34 L367.43 49.07 L367.53 48.81 L367.63 48.56 L367.71 48.32 L367.78 48.12 L367.82 47.94 L367.84 47.81 L367.82 47.72 L367.76 47.67 L367.67 47.66 L367.54 47.70 L367.38 47.76 L367.18 47.85 L366.96 47.97 L366.72 48.10 L366.47 48.23 L366.22 48.36 L365.97 48.47 L365.74 48.57 L365.53 48.64 L365.34 48.68 L365.20 48.68 L365.09 48.65 L365.03 48.58 L365.01 48.47 L365.03 48.32 L365.09 48.15 L365.19 47.95 L365.32 47.73 L365.46 47.50 L365.63 47.27 L365.79 47.04 L365.95 46.81 L366.09 46.61 L366.21 46.43 L366.29 46.28 L366.34 46.15 L366.35 46.06 L366.31 46.00 L366.22 45.96 L366.08 45.96 L365.91 45.98 L365.70 46.02 L365.45 46.08 L365.19 46.14 L364.91 46.20 L364.64 46.26 L364.37 46.31 L364.12 46.34 L363.89 46.35 L363.71 46.34 L363.57 46.31 L363.47 46.25 L363.43 46.16 L363.44 46.05 L363.50 45.92 L363.60 45.76 L363.75 45.60 L363.93 45.42 L364.13 45.23 L364.35 45.05 L364.56 44.87 L364.77 44.70 L364.96 44.54 L365.13 44.39 L365.25 44.27 L365.33 44.16 L365.36 44.07 L365.33 44.00 L365.26 43.95 L365.13 43.91 L364.95 43.88 L364.74 43.87 L364.49 43.86 L364.22 43.85 L363.93 43.84 L363.65 43.82 L363.38 43.80 L363.13 43.77 L362.91 43.72 L362.73 43.66 L362.60 43.59 L362.53 43.51 L362.51 43.42 L362.55 43.31 L362.64 43.20 L362.78 43.08 L362.97 42.95 L363.18 42.83 L363.43 42.70 L363.68 42.58 L363.94 42.46 L364.19 42.35 L364.41 42.24 L364.61 42.15 L364.76 42.06 L364.86 41.97 L364.91 41.89 L364.91 41.82 L364.85 41.75 L364.73 41.68 L364.57 41.61 L364.37 41.54 L364.13 41.46 L363.87 41.38 L363.60 41.30 L363.33 41.21 L363.07 41.12 L362.84 41.02 L362.64 40.92 L362.48 40.82 L362.38 40.72 L362.33 40.62 L362.33 40.53 L362.40 40.43 L362.52 40.35 L362.68 40.27 L362.89 40.20 L363.14 40.13 L363.40 40.07 L363.68 40.02 L363.96 39.97 L364.23 39.93 L364.48 39.89 L364.69 39.84 L364.86 39.79 L364.98 39.74 L365.05 39.68 L365.06 39.60 L365.02 39.52 L364.93 39.42 L364.79 39.31 L364.61 39.19 L364.40 39.06 L364.17 38.91 L363.93 38.76 L363.70 38.61 L363.47 38.45 L363.27 38.30 L363.10 38.15 L362.98 38.01 L362.90 37.89 L362.88 37.78 L362.91 37.69 L363.00 37.62 L363.13 37.56 L363.32 37.53 L363.54 37.51 L363.79 37.51 L364.06 37.53 L364.35 37.55 L364.63 37.58 L364.90 37.60 L365.15 37.62 L365.36 37.64 L365.54 37.63 L365.67 37.61 L365.75 37.57 L365.79 37.50 L365.77 37.41 L365.71 37.29 L365.60 37.15 L365.46 36.99 L365.29 36.81 L365.11 36.61 L364.91 36.40 L364.72 36.19 L364.55 35.98 L364.39 35.78 L364.27 35.59 L364.19 35.43 L364.14 35.29 L364.15 35.18 L364.20 35.10 L364.30 35.05 L364.45 35.03 L364.64 35.05 L364.85 35.09 L365.10 35.16 L365.36 35.24 L365.63 35.33 L365.89 35.43 L366.14 35.53 L366.38 35.61 L366.58 35.68 L366.76 35.72 L366.89 35.74 L366.98 35.72 L367.03 35.66 L367.04 35.57 L367.00 35.44 L366.94 35.28 L366.85 35.08 L366.73 34.86 L366.60 34.62 L366.47 34.37 L366.34 34.12 L366.23 33.87 L366.13 33.64 L366.06 33.43 L366.02 33.24 L366.02 33.10 L366.05 32.99 L366.12 32.93 L366.23 32.91 L366.38 32.93 L366.55 32.99 L366.75 33.09 L366.97 33.22 L367.20 33.36 L367.43 33.53 L367.66 33.69 L367.89 33.85 L368.09 33.99 L368.27 34.11 L368.42 34.19 L368.55 34.24 L368.64 34.25 L368.70 34.21 L368.74 34.12 L368.74 33.98 L368.72 33.81 L368.68 33.60 L368.62 33.35 L368.56 33.09 L368.50 32.81 L368.44 32.54 L368.39 32.27 L368.36 32.02 L368.35 31.79 L368.36 31.61 L368.39 31.47 L368.45 31.37 L368.54 31.33 L368.65 31.34 L368.78 31.40 L368.94 31.50 L369.10 31.65 L369.28 31.83 L369.47 32.03 L369.65 32.25 L369.83 32.46 L370.00 32.67 L370.16 32.86 L370.31 33.03 L370.43 33.15 L370.54 33.23 L370.63 33.26 L370.70 33.23 L370.75 33.16 L370.79 33.03 L370.82 32.85 L370.83 32.64 L370.84 32.39 L370.85 32.12 L370.86 31.83 L370.88 31.55 L370.90 31.28 L370.93 31.03 L370.98 30.81 L371.04 30.63 L371.11 30.50 L371.19 30.43 L371.28 30.41 L371.39 30.45 L371.50 30.54 L371.62 30.68 L371.75 30.87 L371.87 31.08 L372.00 31.33 L372.12 31.58 L372.24 31.84 L372.35 32.09 L372.46 32.31 L372.55 32.51 L372.64 32.66 L372.73 32.76 L372.81 32.81 L372.88 32.81 L372.95 32.75 L373.02 32.63 L373.09 32.47 L373.16 32.27 L373.24 32.03 L373.32 31.77 L373.40 31.50 L373.49 31.23 L373.58 30.97 L373.68 30.74 L373.78 30.54 L373.88 30.38 L373.98 30.28 L374.08 30.23 L374.17 30.23 L374.27 30.30 L374.35 30.42 L374.43 30.58 L374.50 30.79 L374.57 31.04 L374.63 31.30 L374.68 31.58 L374.73 31.86 L374.77 32.13 L374.81 32.38 L374.86 32.59 L374.91 32.76 L374.96 32.88 L375.02 32.95 L375.10 32.96 L375.18 32.92 L375.28 32.83 L375.39 32.69 L375.51 32.51 L375.64 32.30 L375.79 32.07 L375.94 31.83 L376.09 31.60 L376.25 31.37 L376.40 31.17 L376.55 31.00 L376.69 30.88 L376.81 30.80 L376.92 30.78 L377.01 30.81 L377.08 30.90 L377.14 31.03 L377.17 31.22 L377.19 31.44 L377.19 31.69 L377.17 31.96 L377.15 32.25 L377.12 32.53 L377.10 32.80 L377.08 33.05 L377.06 33.26 L377.07 33.44 L377.09 33.57 L377.13 33.65 L377.20 33.69 L377.29 33.67 L377.41 33.61 L377.55 33.50 L377.71 33.36 L377.89 33.19 L378.09 33.01 L378.30 32.81 L378.51 32.62 L378.72 32.45 L378.92 32.29 L379.11 32.17 L379.27 32.09 L379.41 32.04 L379.52 32.05 L379.60 32.10 L379.65 32.20 L379.67 32.35 L379.65 32.54 L379.61 32.75 L379.54 33.00 L379.46 33.26 L379.37 33.53 L379.27 33.79 L379.17 34.04 L379.09 34.28 L379.02 34.48 L378.98 34.66 L378.96 34.79 L378.98 34.88 L379.04 34.93 L379.13 34.94 L379.26 34.90 L379.42 34.84 L379.62 34.75 L379.84 34.63 L380.08 34.50 L380.33 34.37 L380.58 34.24 L380.83 34.13 L381.06 34.03 L381.27 33.96 L381.46 33.92 L381.60 33.92 L381.71 33.95 L381.77 34.02 L381.79 34.13 L381.77 34.28 L381.71 34.45 L381.61 34.65 L381.48 34.87 L381.34 35.10 L381.17 35.33 L381.01 35.56 L380.85 35.79 L380.71 35.99 L380.59 36.17 L380.51 36.32 L380.46 36.45 L380.45 36.54 L380.49 36.60 L380.58 36.64 L380.72 36.64 L380.89 36.62 L381.10 36.58 L381.35 36.52 L381.61 36.46 L381.89 36.40 L382.16 36.34 L382.43 36.29 L382.68 36.26 L382.91 36.25 L383.09 36.26 L383.23 36.29 L383.33 36.35 L383.37 36.44 L383.36 36.55 L383.30 36.68 L383.20 36.84 L383.05 37.00 L382.87 37.18 L382.67 37.37 L382.45 37.55 L382.24 37.73 L382.03 37.90 L381.84 38.06 L381.67 38.21 L381.55 38.33 L381.47 38.44 L381.44 38.53 L381.47 38.60 L381.54 38.65 L381.67 38.69 L381.85 38.72 L382.06 38.73 L382.31 38.74 L382.58 38.75 L382.87 38.76 L383.15 38.78 L383.42 38.80 L383.67 38.83 L383.89 38.88 L384.07 38.94 L384.20 39.01 L384.27 39.09 L384.29 39.18 L384.25 39.29 L384.16 39.40 L384.02 39.52 L383.83 39.65 L383.62 39.77 L383.37 39.90 L383.12 40.02 L382.86 40.14 L382.61 40.25 L382.39 40.36 L382.19 40.45 L382.04 40.54 L381.94 40.63 L381.89 40.71 L381.89 40.78 L381.95 40.85 L382.07 40.92 L382.23 40.99 L382.43 41.06 L382.67 41.14 L382.93 41.22 L383.20 41.30Z" stroke-width="1.2"/>
</g>
<circle cx="363.5" cy="41.3" r="2.1" fill="#000"/><circle cx="383.5" cy="41.3" r="2.1" fill="#000"/>
<!-- diagram 3 -->
<g stroke="#000" stroke-width="1.05" fill="none">
<path d="M474 42.2H490.7M531.1 42.2H514" stroke-dasharray="3.8 2.5"/>
<circle cx="502.35" cy="42.2" r="11.6"/>
<path d="M502.1 28L505.4 30.6L501.7 33.5"/>
<path d="M503 51.3L500.1 53.8L502.4 56.6"/>
</g>
<circle cx="490.7" cy="42.2" r="2.6" fill="#000"/><circle cx="514" cy="42.2" r="2.6" fill="#000"/>
<!-- tick labels -->
<g font-size="23.2" fill="#000">
<text transform="translate(100.00 17.00) scale(0.985 1.045)" text-anchor="end">0.03</text>
<text transform="translate(100.90 61.60) scale(0.985 1.045)" text-anchor="end">0.02</text>
<text transform="translate(100.00 105.90) scale(0.985 1.045)" text-anchor="end">0.01</text>
<text transform="translate(100.60 150.90) scale(0.985 1.045)" text-anchor="end">0.00</text>
<text transform="translate(99.80 195.50) scale(0.985 1.045)" text-anchor="end">−<tspan dx="2.2">0.01</tspan></text>
<text transform="translate(101.00 239.60) scale(0.985 1.045)" text-anchor="end">−<tspan dx="2.2">0.02</tspan></text>
<text transform="translate(151.10 260.3) scale(0.985 1.0)" letter-spacing="-0.4">10<tspan dy="-9.3" font-size="16.6" letter-spacing="0">7</tspan></text>
<text transform="translate(301.10 260.3) scale(0.985 1.0)" letter-spacing="-0.4">10<tspan dy="-9.3" font-size="16.6" letter-spacing="0">17</tspan></text>
<text transform="translate(455.10 260.3) scale(0.985 1.0)" letter-spacing="-0.4">10<tspan dy="-9.3" font-size="16.6" letter-spacing="0">27</tspan></text>
<text transform="translate(609.10 260.3) scale(0.985 1.0)" letter-spacing="-0.4">10<tspan dy="-9.3" font-size="16.6" letter-spacing="0">37</tspan></text>
</g>
<!-- axis labels -->
<text x="357.1" y="296" font-size="22.6" fill="#000" font-style="italic">k</text>
<text x="380" y="296" font-size="22.6" fill="#000" letter-spacing="-0.4">GeV</text>
<text transform="translate(375.3 301.6) scale(0.45 1)" font-size="33" fill="#000" stroke="#000" stroke-width="0.5">[</text>
<text transform="translate(425.6 301.6) scale(0.45 1)" font-size="33" fill="#000" stroke="#000" stroke-width="0.5">]</text>
<g transform="translate(20.9 190) rotate(-90)" fill="#000">
<text transform="translate(-0.4 3.2) scale(1.18 1)" font-size="28">&#8706;</text>
<text x="15.4" y="7.0" font-size="17.5" font-style="italic">&#961;</text>
<path d="M16.5 -4H22.5" stroke="#000" stroke-width="1.1"/>
<text x="34.7" y="0" font-size="22.6" textLength="50.2" lengthAdjust="spacingAndGlyphs">Flow</text>
<path d="M32.8 -20.1H89.6" stroke="#000" stroke-width="1.4"/>
<text transform="translate(97.1 5.8) scale(0.45 1)" font-size="33" stroke="#000" stroke-width="0.5">[</text>
<text transform="translate(102.8 0) scale(1.08 1)" font-size="22.6" font-style="italic">V</text>
<text x="118.4" y="8.4" font-size="17">eff</text>
<text transform="translate(139.8 5.8) scale(0.45 1)" font-size="33" stroke="#000" stroke-width="0.5">]</text>
</g>
</svg>
</body></html>
